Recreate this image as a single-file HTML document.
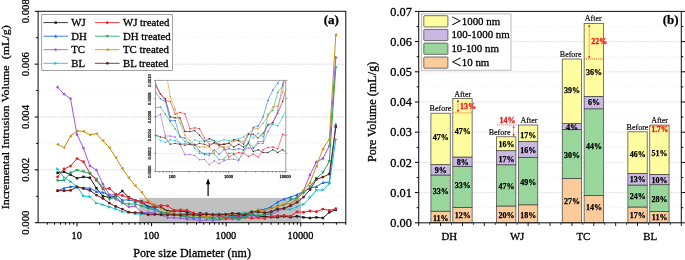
<!DOCTYPE html>
<html lang="en"><head><meta charset="utf-8"><title>Pore size distribution</title>
<style>html,body{margin:0;padding:0;background:#fff}body{width:685px;height:260px;overflow:hidden}svg{display:block;filter:blur(0.45px)}</style>
</head><body>
<svg width="685" height="260" viewBox="0 0 685 260" font-family='"Liberation Serif", "DejaVu Serif", serif'>
<rect width="685" height="260" fill="#fff"/>
<line x1="38.1" x2="345.8" y1="196.27" y2="196.27" stroke="#f1f1f1" stroke-width="0.7" stroke-dasharray="1.2,1.2"/>
<line x1="38.1" x2="345.8" y1="169.85" y2="169.85" stroke="#b9b9b9" stroke-width="0.7" stroke-dasharray="1.2,1.2"/>
<line x1="38.1" x2="345.8" y1="143.43" y2="143.43" stroke="#f1f1f1" stroke-width="0.7" stroke-dasharray="1.2,1.2"/>
<line x1="38.1" x2="345.8" y1="117.00" y2="117.00" stroke="#b9b9b9" stroke-width="0.7" stroke-dasharray="1.2,1.2"/>
<line x1="38.1" x2="345.8" y1="90.57" y2="90.57" stroke="#f1f1f1" stroke-width="0.7" stroke-dasharray="1.2,1.2"/>
<line x1="38.1" x2="345.8" y1="64.15" y2="64.15" stroke="#b9b9b9" stroke-width="0.7" stroke-dasharray="1.2,1.2"/>
<line x1="38.1" x2="345.8" y1="37.73" y2="37.73" stroke="#f1f1f1" stroke-width="0.7" stroke-dasharray="1.2,1.2"/>
<rect x="139.2" y="197.9" width="161.8" height="24.8" fill="#c0c0c0"/>
<clipPath id="ca"><rect x="38.1" y="11.3" width="307.7" height="214.39999999999998"/></clipPath>
<g clip-path="url(#ca)">
<polyline points="57.60,172.80 64.07,171.80 70.54,174.70 77.01,178.20 83.48,176.90 89.95,177.70 96.42,188.20 102.89,196.10 109.36,197.50 115.83,196.10 122.30,191.00 128.77,197.33 135.24,200.24 141.71,201.56 148.18,206.84 154.65,207.11 161.12,207.11 167.59,211.07 174.06,211.07 180.53,210.81 187.00,212.13 193.47,213.98 199.94,213.19 206.41,213.72 212.88,215.04 219.35,214.77 225.82,214.51 232.29,215.57 238.76,214.77 245.23,215.57 251.70,214.51 258.17,216.89 264.64,216.36 271.11,217.15 277.58,217.15 284.05,216.36 290.52,217.15 296.99,216.36 303.46,217.40 309.93,218.00 316.40,217.40 322.87,218.00 329.34,212.30 335.81,209.80" fill="none" stroke="#1a1a1a" stroke-width="1" stroke-linejoin="round"/>
<rect x="56.37" y="171.57" width="2.46" height="2.46" fill="#1a1a1a"/>
<rect x="62.84" y="170.57" width="2.46" height="2.46" fill="#1a1a1a"/>
<rect x="69.31" y="173.47" width="2.46" height="2.46" fill="#1a1a1a"/>
<rect x="75.78" y="176.97" width="2.46" height="2.46" fill="#1a1a1a"/>
<rect x="82.25" y="175.67" width="2.46" height="2.46" fill="#1a1a1a"/>
<rect x="88.72" y="176.47" width="2.46" height="2.46" fill="#1a1a1a"/>
<rect x="95.19" y="186.97" width="2.46" height="2.46" fill="#1a1a1a"/>
<rect x="101.66" y="194.87" width="2.46" height="2.46" fill="#1a1a1a"/>
<rect x="108.13" y="196.27" width="2.46" height="2.46" fill="#1a1a1a"/>
<rect x="114.60" y="194.87" width="2.46" height="2.46" fill="#1a1a1a"/>
<rect x="121.07" y="189.77" width="2.46" height="2.46" fill="#1a1a1a"/>
<rect x="127.54" y="196.10" width="2.46" height="2.46" fill="#1a1a1a"/>
<rect x="134.01" y="199.01" width="2.46" height="2.46" fill="#1a1a1a"/>
<rect x="140.48" y="200.33" width="2.46" height="2.46" fill="#1a1a1a"/>
<rect x="146.95" y="205.61" width="2.46" height="2.46" fill="#1a1a1a"/>
<rect x="153.42" y="205.88" width="2.46" height="2.46" fill="#1a1a1a"/>
<rect x="159.89" y="205.88" width="2.46" height="2.46" fill="#1a1a1a"/>
<rect x="166.36" y="209.84" width="2.46" height="2.46" fill="#1a1a1a"/>
<rect x="172.83" y="209.84" width="2.46" height="2.46" fill="#1a1a1a"/>
<rect x="179.30" y="209.58" width="2.46" height="2.46" fill="#1a1a1a"/>
<rect x="185.77" y="210.90" width="2.46" height="2.46" fill="#1a1a1a"/>
<rect x="192.24" y="212.75" width="2.46" height="2.46" fill="#1a1a1a"/>
<rect x="198.71" y="211.95" width="2.46" height="2.46" fill="#1a1a1a"/>
<rect x="205.18" y="212.48" width="2.46" height="2.46" fill="#1a1a1a"/>
<rect x="211.65" y="213.80" width="2.46" height="2.46" fill="#1a1a1a"/>
<rect x="218.12" y="213.54" width="2.46" height="2.46" fill="#1a1a1a"/>
<rect x="224.59" y="213.28" width="2.46" height="2.46" fill="#1a1a1a"/>
<rect x="231.06" y="214.33" width="2.46" height="2.46" fill="#1a1a1a"/>
<rect x="237.53" y="213.54" width="2.46" height="2.46" fill="#1a1a1a"/>
<rect x="244.00" y="214.33" width="2.46" height="2.46" fill="#1a1a1a"/>
<rect x="250.47" y="213.28" width="2.46" height="2.46" fill="#1a1a1a"/>
<rect x="256.94" y="215.65" width="2.46" height="2.46" fill="#1a1a1a"/>
<rect x="263.41" y="215.13" width="2.46" height="2.46" fill="#1a1a1a"/>
<rect x="269.88" y="215.92" width="2.46" height="2.46" fill="#1a1a1a"/>
<rect x="276.35" y="215.92" width="2.46" height="2.46" fill="#1a1a1a"/>
<rect x="282.82" y="215.13" width="2.46" height="2.46" fill="#1a1a1a"/>
<rect x="289.29" y="215.92" width="2.46" height="2.46" fill="#1a1a1a"/>
<rect x="295.76" y="215.13" width="2.46" height="2.46" fill="#1a1a1a"/>
<rect x="302.23" y="216.17" width="2.46" height="2.46" fill="#1a1a1a"/>
<rect x="308.70" y="216.77" width="2.46" height="2.46" fill="#1a1a1a"/>
<rect x="315.17" y="216.17" width="2.46" height="2.46" fill="#1a1a1a"/>
<rect x="321.64" y="216.77" width="2.46" height="2.46" fill="#1a1a1a"/>
<rect x="328.11" y="211.07" width="2.46" height="2.46" fill="#1a1a1a"/>
<rect x="334.58" y="208.57" width="2.46" height="2.46" fill="#1a1a1a"/>
<polyline points="57.60,190.70 64.07,188.20 70.54,186.60 77.01,187.00 83.48,187.90 89.95,188.20 96.42,191.70 102.89,192.30 109.36,195.00 115.83,194.80 122.30,200.20 128.77,199.71 135.24,201.56 141.71,202.35 148.18,207.90 154.65,207.90 161.12,212.66 167.59,212.92 174.06,214.77 180.53,214.77 187.00,216.75 193.47,217.68 199.94,217.94 206.41,216.36 212.88,217.68 219.35,216.36 225.82,216.09 232.29,216.36 238.76,216.09 245.23,216.36 251.70,214.51 258.17,209.88 264.64,209.49 271.11,206.84 277.58,202.09 284.05,199.05 290.52,197.07 296.99,194.69 303.46,191.40 309.93,188.20 316.40,186.60 322.87,182.60 329.34,182.20 335.81,124.50" fill="none" stroke="#1668e6" stroke-width="1" stroke-linejoin="round"/>
<polygon points="57.60,189.03 59.27,192.03 55.93,192.03" fill="#1668e6"/>
<polygon points="64.07,186.53 65.74,189.53 62.40,189.53" fill="#1668e6"/>
<polygon points="70.54,184.93 72.21,187.93 68.87,187.93" fill="#1668e6"/>
<polygon points="77.01,185.33 78.68,188.33 75.34,188.33" fill="#1668e6"/>
<polygon points="83.48,186.23 85.15,189.23 81.81,189.23" fill="#1668e6"/>
<polygon points="89.95,186.53 91.62,189.53 88.28,189.53" fill="#1668e6"/>
<polygon points="96.42,190.03 98.09,193.03 94.75,193.03" fill="#1668e6"/>
<polygon points="102.89,190.63 104.56,193.63 101.22,193.63" fill="#1668e6"/>
<polygon points="109.36,193.33 111.03,196.33 107.69,196.33" fill="#1668e6"/>
<polygon points="115.83,193.13 117.50,196.13 114.16,196.13" fill="#1668e6"/>
<polygon points="122.30,198.53 123.97,201.53 120.63,201.53" fill="#1668e6"/>
<polygon points="128.77,198.04 130.44,201.04 127.10,201.04" fill="#1668e6"/>
<polygon points="135.24,199.89 136.91,202.89 133.57,202.89" fill="#1668e6"/>
<polygon points="141.71,200.69 143.38,203.69 140.04,203.69" fill="#1668e6"/>
<polygon points="148.18,206.23 149.85,209.24 146.51,209.24" fill="#1668e6"/>
<polygon points="154.65,206.23 156.32,209.24 152.98,209.24" fill="#1668e6"/>
<polygon points="161.12,210.99 162.79,213.99 159.45,213.99" fill="#1668e6"/>
<polygon points="167.59,211.26 169.26,214.26 165.92,214.26" fill="#1668e6"/>
<polygon points="174.06,213.10 175.73,216.11 172.39,216.11" fill="#1668e6"/>
<polygon points="180.53,213.10 182.20,216.11 178.86,216.11" fill="#1668e6"/>
<polygon points="187.00,215.09 188.67,218.09 185.33,218.09" fill="#1668e6"/>
<polygon points="193.47,216.01 195.14,219.01 191.80,219.01" fill="#1668e6"/>
<polygon points="199.94,216.28 201.61,219.28 198.27,219.28" fill="#1668e6"/>
<polygon points="206.41,214.69 208.08,217.69 204.74,217.69" fill="#1668e6"/>
<polygon points="212.88,216.01 214.55,219.01 211.21,219.01" fill="#1668e6"/>
<polygon points="219.35,214.69 221.02,217.69 217.68,217.69" fill="#1668e6"/>
<polygon points="225.82,214.43 227.49,217.43 224.15,217.43" fill="#1668e6"/>
<polygon points="232.29,214.69 233.96,217.69 230.62,217.69" fill="#1668e6"/>
<polygon points="238.76,214.43 240.43,217.43 237.09,217.43" fill="#1668e6"/>
<polygon points="245.23,214.69 246.90,217.69 243.56,217.69" fill="#1668e6"/>
<polygon points="251.70,212.84 253.37,215.84 250.03,215.84" fill="#1668e6"/>
<polygon points="258.17,208.22 259.84,211.22 256.50,211.22" fill="#1668e6"/>
<polygon points="264.64,207.82 266.31,210.82 262.97,210.82" fill="#1668e6"/>
<polygon points="271.11,205.18 272.78,208.18 269.44,208.18" fill="#1668e6"/>
<polygon points="277.58,200.42 279.25,203.42 275.91,203.42" fill="#1668e6"/>
<polygon points="284.05,197.38 285.72,200.38 282.38,200.38" fill="#1668e6"/>
<polygon points="290.52,195.40 292.19,198.40 288.85,198.40" fill="#1668e6"/>
<polygon points="296.99,193.02 298.66,196.02 295.32,196.02" fill="#1668e6"/>
<polygon points="303.46,189.73 305.13,192.73 301.79,192.73" fill="#1668e6"/>
<polygon points="309.93,186.53 311.60,189.53 308.26,189.53" fill="#1668e6"/>
<polygon points="316.40,184.93 318.07,187.93 314.73,187.93" fill="#1668e6"/>
<polygon points="322.87,180.93 324.54,183.93 321.20,183.93" fill="#1668e6"/>
<polygon points="329.34,180.53 331.01,183.53 327.67,183.53" fill="#1668e6"/>
<polygon points="335.81,122.83 337.48,125.83 334.14,125.83" fill="#1668e6"/>
<polyline points="57.60,87.20 64.07,94.20 70.54,98.70 77.01,134.60 83.48,148.10 89.95,165.90 96.42,170.05 102.89,184.00 109.36,194.80 115.83,199.30 122.30,203.00 128.77,206.84 135.24,206.05 141.71,212.39 148.18,212.39 154.65,212.66 161.12,214.77 167.59,217.84 174.06,217.76 180.53,218.02 187.00,219.26 193.47,219.16 199.94,220.69 206.41,219.58 212.88,220.43 219.35,219.53 225.82,219.11 232.29,219.11 238.76,219.53 245.23,216.36 251.70,215.83 258.17,216.09 264.64,214.51 271.11,214.51 277.58,211.07 284.05,208.69 290.52,205.00 296.99,197.33 303.46,191.00 309.93,175.00 316.40,161.90 322.87,158.50 329.34,145.80 335.81,57.50" fill="none" stroke="#a354e8" stroke-width="1" stroke-linejoin="round"/>
<polygon points="57.60,85.53 59.27,87.20 57.60,88.87 55.93,87.20" fill="#a354e8"/>
<polygon points="64.07,92.53 65.74,94.20 64.07,95.87 62.40,94.20" fill="#a354e8"/>
<polygon points="70.54,97.03 72.21,98.70 70.54,100.37 68.87,98.70" fill="#a354e8"/>
<polygon points="77.01,132.93 78.68,134.60 77.01,136.27 75.34,134.60" fill="#a354e8"/>
<polygon points="83.48,146.43 85.15,148.10 83.48,149.77 81.81,148.10" fill="#a354e8"/>
<polygon points="89.95,164.23 91.62,165.90 89.95,167.57 88.28,165.90" fill="#a354e8"/>
<polygon points="96.42,168.38 98.09,170.05 96.42,171.72 94.75,170.05" fill="#a354e8"/>
<polygon points="102.89,182.33 104.56,184.00 102.89,185.67 101.22,184.00" fill="#a354e8"/>
<polygon points="109.36,193.13 111.03,194.80 109.36,196.47 107.69,194.80" fill="#a354e8"/>
<polygon points="115.83,197.63 117.50,199.30 115.83,200.97 114.16,199.30" fill="#a354e8"/>
<polygon points="122.30,201.33 123.97,203.00 122.30,204.67 120.63,203.00" fill="#a354e8"/>
<polygon points="128.77,205.18 130.44,206.84 128.77,208.51 127.10,206.84" fill="#a354e8"/>
<polygon points="135.24,204.38 136.91,206.05 135.24,207.72 133.57,206.05" fill="#a354e8"/>
<polygon points="141.71,210.73 143.38,212.39 141.71,214.06 140.04,212.39" fill="#a354e8"/>
<polygon points="148.18,210.73 149.85,212.39 148.18,214.06 146.51,212.39" fill="#a354e8"/>
<polygon points="154.65,210.99 156.32,212.66 154.65,214.33 152.98,212.66" fill="#a354e8"/>
<polygon points="161.12,213.10 162.79,214.77 161.12,216.44 159.45,214.77" fill="#a354e8"/>
<polygon points="167.59,216.17 169.26,217.84 167.59,219.51 165.92,217.84" fill="#a354e8"/>
<polygon points="174.06,216.09 175.73,217.76 174.06,219.43 172.39,217.76" fill="#a354e8"/>
<polygon points="180.53,216.36 182.20,218.02 180.53,219.69 178.86,218.02" fill="#a354e8"/>
<polygon points="187.00,217.60 188.67,219.26 187.00,220.93 185.33,219.26" fill="#a354e8"/>
<polygon points="193.47,217.49 195.14,219.16 193.47,220.83 191.80,219.16" fill="#a354e8"/>
<polygon points="199.94,219.02 201.61,220.69 199.94,222.36 198.27,220.69" fill="#a354e8"/>
<polygon points="206.41,217.91 208.08,219.58 206.41,221.25 204.74,219.58" fill="#a354e8"/>
<polygon points="212.88,218.76 214.55,220.43 212.88,222.09 211.21,220.43" fill="#a354e8"/>
<polygon points="219.35,217.86 221.02,219.53 219.35,221.20 217.68,219.53" fill="#a354e8"/>
<polygon points="225.82,217.44 227.49,219.11 225.82,220.77 224.15,219.11" fill="#a354e8"/>
<polygon points="232.29,217.44 233.96,219.11 232.29,220.77 230.62,219.11" fill="#a354e8"/>
<polygon points="238.76,217.86 240.43,219.53 238.76,221.20 237.09,219.53" fill="#a354e8"/>
<polygon points="245.23,214.69 246.90,216.36 245.23,218.03 243.56,216.36" fill="#a354e8"/>
<polygon points="251.70,214.16 253.37,215.83 251.70,217.50 250.03,215.83" fill="#a354e8"/>
<polygon points="258.17,214.43 259.84,216.09 258.17,217.76 256.50,216.09" fill="#a354e8"/>
<polygon points="264.64,212.84 266.31,214.51 264.64,216.18 262.97,214.51" fill="#a354e8"/>
<polygon points="271.11,212.84 272.78,214.51 271.11,216.18 269.44,214.51" fill="#a354e8"/>
<polygon points="277.58,209.41 279.25,211.07 277.58,212.74 275.91,211.07" fill="#a354e8"/>
<polygon points="284.05,207.03 285.72,208.69 284.05,210.36 282.38,208.69" fill="#a354e8"/>
<polygon points="290.52,203.33 292.19,205.00 290.52,206.66 288.85,205.00" fill="#a354e8"/>
<polygon points="296.99,195.66 298.66,197.33 296.99,199.00 295.32,197.33" fill="#a354e8"/>
<polygon points="303.46,189.33 305.13,191.00 303.46,192.67 301.79,191.00" fill="#a354e8"/>
<polygon points="309.93,173.33 311.60,175.00 309.93,176.67 308.26,175.00" fill="#a354e8"/>
<polygon points="316.40,160.23 318.07,161.90 316.40,163.57 314.73,161.90" fill="#a354e8"/>
<polygon points="322.87,156.83 324.54,158.50 322.87,160.17 321.20,158.50" fill="#a354e8"/>
<polygon points="329.34,144.13 331.01,145.80 329.34,147.47 327.67,145.80" fill="#a354e8"/>
<polygon points="335.81,55.83 337.48,57.50 335.81,59.17 334.14,57.50" fill="#a354e8"/>
<polyline points="57.60,169.00 64.07,177.30 70.54,181.60 77.01,186.60 83.48,195.90 89.95,196.70 96.42,203.10 102.89,204.70 109.36,207.00 115.83,209.00 122.30,211.70 128.77,212.39 135.24,213.72 141.71,214.24 148.18,213.45 154.65,213.72 161.12,214.51 167.59,214.51 174.06,214.77 180.53,213.45 187.00,213.98 193.47,213.72 199.94,213.98 206.41,213.72 212.88,213.98 219.35,213.45 225.82,213.72 232.29,213.45 238.76,213.19 245.23,212.66 251.70,211.60 258.17,212.92 264.64,211.60 271.11,212.66 277.58,208.96 284.05,208.96 290.52,209.49 296.99,206.84 303.46,204.30 309.93,197.70 316.40,190.00 322.87,190.00 329.34,183.50 335.81,139.40" fill="none" stroke="#12c3cc" stroke-width="1" stroke-linejoin="round"/>
<polygon points="59.27,169.00 56.27,167.33 56.27,170.67" fill="#12c3cc"/>
<polygon points="65.74,177.30 62.74,175.63 62.74,178.97" fill="#12c3cc"/>
<polygon points="72.21,181.60 69.21,179.93 69.21,183.27" fill="#12c3cc"/>
<polygon points="78.68,186.60 75.68,184.93 75.68,188.27" fill="#12c3cc"/>
<polygon points="85.15,195.90 82.15,194.23 82.15,197.57" fill="#12c3cc"/>
<polygon points="91.62,196.70 88.62,195.03 88.62,198.37" fill="#12c3cc"/>
<polygon points="98.09,203.10 95.09,201.43 95.09,204.77" fill="#12c3cc"/>
<polygon points="104.56,204.70 101.56,203.03 101.56,206.37" fill="#12c3cc"/>
<polygon points="111.03,207.00 108.03,205.33 108.03,208.67" fill="#12c3cc"/>
<polygon points="117.50,209.00 114.50,207.33 114.50,210.67" fill="#12c3cc"/>
<polygon points="123.97,211.70 120.97,210.03 120.97,213.37" fill="#12c3cc"/>
<polygon points="130.44,212.39 127.44,210.73 127.44,214.06" fill="#12c3cc"/>
<polygon points="136.91,213.72 133.91,212.05 133.91,215.38" fill="#12c3cc"/>
<polygon points="143.38,214.24 140.38,212.58 140.38,215.91" fill="#12c3cc"/>
<polygon points="149.85,213.45 146.85,211.78 146.85,215.12" fill="#12c3cc"/>
<polygon points="156.32,213.72 153.32,212.05 153.32,215.38" fill="#12c3cc"/>
<polygon points="162.79,214.51 159.79,212.84 159.79,216.18" fill="#12c3cc"/>
<polygon points="169.26,214.51 166.26,212.84 166.26,216.18" fill="#12c3cc"/>
<polygon points="175.73,214.77 172.73,213.10 172.73,216.44" fill="#12c3cc"/>
<polygon points="182.20,213.45 179.20,211.78 179.20,215.12" fill="#12c3cc"/>
<polygon points="188.67,213.98 185.67,212.31 185.67,215.65" fill="#12c3cc"/>
<polygon points="195.14,213.72 192.14,212.05 192.14,215.38" fill="#12c3cc"/>
<polygon points="201.61,213.98 198.61,212.31 198.61,215.65" fill="#12c3cc"/>
<polygon points="208.08,213.72 205.08,212.05 205.08,215.38" fill="#12c3cc"/>
<polygon points="214.55,213.98 211.55,212.31 211.55,215.65" fill="#12c3cc"/>
<polygon points="221.02,213.45 218.02,211.78 218.02,215.12" fill="#12c3cc"/>
<polygon points="227.49,213.72 224.49,212.05 224.49,215.38" fill="#12c3cc"/>
<polygon points="233.96,213.45 230.96,211.78 230.96,215.12" fill="#12c3cc"/>
<polygon points="240.43,213.19 237.43,211.52 237.43,214.85" fill="#12c3cc"/>
<polygon points="246.90,212.66 243.90,210.99 243.90,214.33" fill="#12c3cc"/>
<polygon points="253.37,211.60 250.37,209.93 250.37,213.27" fill="#12c3cc"/>
<polygon points="259.84,212.92 256.84,211.26 256.84,214.59" fill="#12c3cc"/>
<polygon points="266.31,211.60 263.31,209.93 263.31,213.27" fill="#12c3cc"/>
<polygon points="272.78,212.66 269.78,210.99 269.78,214.33" fill="#12c3cc"/>
<polygon points="279.25,208.96 276.25,207.29 276.25,210.63" fill="#12c3cc"/>
<polygon points="285.72,208.96 282.72,207.29 282.72,210.63" fill="#12c3cc"/>
<polygon points="292.19,209.49 289.19,207.82 289.19,211.15" fill="#12c3cc"/>
<polygon points="298.66,206.84 295.66,205.18 295.66,208.51" fill="#12c3cc"/>
<polygon points="305.13,204.30 302.13,202.63 302.13,205.97" fill="#12c3cc"/>
<polygon points="311.60,197.70 308.60,196.03 308.60,199.37" fill="#12c3cc"/>
<polygon points="318.07,190.00 315.07,188.33 315.07,191.67" fill="#12c3cc"/>
<polygon points="324.54,190.00 321.54,188.33 321.54,191.67" fill="#12c3cc"/>
<polygon points="331.01,183.50 328.01,181.83 328.01,185.17" fill="#12c3cc"/>
<polygon points="337.48,139.40 334.48,137.73 334.48,141.07" fill="#12c3cc"/>
<polyline points="57.60,176.90 64.07,169.00 70.54,166.10 77.01,158.60 83.48,161.70 89.95,173.50 96.42,180.20 102.89,189.10 109.36,188.50 115.83,194.20 122.30,195.50 128.77,197.86 135.24,200.24 141.71,202.09 148.18,202.35 154.65,206.05 161.12,205.52 167.59,205.92 174.06,210.28 180.53,210.02 187.00,210.28 193.47,212.92 199.94,214.77 206.41,214.51 212.88,215.04 219.35,215.83 225.82,218.47 232.29,217.68 238.76,217.15 245.23,217.41 251.70,218.29 258.17,217.68 264.64,218.47 271.11,216.36 277.58,215.70 284.05,215.57 290.52,216.09 296.99,211.87 303.46,212.30 309.93,211.00 316.40,211.70 322.87,209.10 329.34,210.40 335.81,208.80" fill="none" stroke="#f0202a" stroke-width="1" stroke-linejoin="round"/>
<circle cx="57.60" cy="176.90" r="1.45" fill="#f0202a"/>
<circle cx="64.07" cy="169.00" r="1.45" fill="#f0202a"/>
<circle cx="70.54" cy="166.10" r="1.45" fill="#f0202a"/>
<circle cx="77.01" cy="158.60" r="1.45" fill="#f0202a"/>
<circle cx="83.48" cy="161.70" r="1.45" fill="#f0202a"/>
<circle cx="89.95" cy="173.50" r="1.45" fill="#f0202a"/>
<circle cx="96.42" cy="180.20" r="1.45" fill="#f0202a"/>
<circle cx="102.89" cy="189.10" r="1.45" fill="#f0202a"/>
<circle cx="109.36" cy="188.50" r="1.45" fill="#f0202a"/>
<circle cx="115.83" cy="194.20" r="1.45" fill="#f0202a"/>
<circle cx="122.30" cy="195.50" r="1.45" fill="#f0202a"/>
<circle cx="128.77" cy="197.86" r="1.45" fill="#f0202a"/>
<circle cx="135.24" cy="200.24" r="1.45" fill="#f0202a"/>
<circle cx="141.71" cy="202.09" r="1.45" fill="#f0202a"/>
<circle cx="148.18" cy="202.35" r="1.45" fill="#f0202a"/>
<circle cx="154.65" cy="206.05" r="1.45" fill="#f0202a"/>
<circle cx="161.12" cy="205.52" r="1.45" fill="#f0202a"/>
<circle cx="167.59" cy="205.92" r="1.45" fill="#f0202a"/>
<circle cx="174.06" cy="210.28" r="1.45" fill="#f0202a"/>
<circle cx="180.53" cy="210.02" r="1.45" fill="#f0202a"/>
<circle cx="187.00" cy="210.28" r="1.45" fill="#f0202a"/>
<circle cx="193.47" cy="212.92" r="1.45" fill="#f0202a"/>
<circle cx="199.94" cy="214.77" r="1.45" fill="#f0202a"/>
<circle cx="206.41" cy="214.51" r="1.45" fill="#f0202a"/>
<circle cx="212.88" cy="215.04" r="1.45" fill="#f0202a"/>
<circle cx="219.35" cy="215.83" r="1.45" fill="#f0202a"/>
<circle cx="225.82" cy="218.47" r="1.45" fill="#f0202a"/>
<circle cx="232.29" cy="217.68" r="1.45" fill="#f0202a"/>
<circle cx="238.76" cy="217.15" r="1.45" fill="#f0202a"/>
<circle cx="245.23" cy="217.41" r="1.45" fill="#f0202a"/>
<circle cx="251.70" cy="218.29" r="1.45" fill="#f0202a"/>
<circle cx="258.17" cy="217.68" r="1.45" fill="#f0202a"/>
<circle cx="264.64" cy="218.47" r="1.45" fill="#f0202a"/>
<circle cx="271.11" cy="216.36" r="1.45" fill="#f0202a"/>
<circle cx="277.58" cy="215.70" r="1.45" fill="#f0202a"/>
<circle cx="284.05" cy="215.57" r="1.45" fill="#f0202a"/>
<circle cx="290.52" cy="216.09" r="1.45" fill="#f0202a"/>
<circle cx="296.99" cy="211.87" r="1.45" fill="#f0202a"/>
<circle cx="303.46" cy="212.30" r="1.45" fill="#f0202a"/>
<circle cx="309.93" cy="211.00" r="1.45" fill="#f0202a"/>
<circle cx="316.40" cy="211.70" r="1.45" fill="#f0202a"/>
<circle cx="322.87" cy="209.10" r="1.45" fill="#f0202a"/>
<circle cx="329.34" cy="210.40" r="1.45" fill="#f0202a"/>
<circle cx="335.81" cy="208.80" r="1.45" fill="#f0202a"/>
<polyline points="57.60,180.50 64.07,180.50 70.54,172.80 77.01,170.30 83.48,171.60 89.95,173.50 96.42,179.20 102.89,187.90 109.36,199.30 115.83,197.40 122.30,202.80 128.77,204.20 135.24,203.94 141.71,206.05 148.18,208.17 154.65,210.28 161.12,212.39 167.59,213.98 174.06,214.51 180.53,215.83 187.00,217.41 193.47,217.41 199.94,217.41 206.41,217.55 212.88,219.26 219.35,219.08 225.82,217.41 232.29,217.41 238.76,219.26 245.23,217.41 251.70,213.98 258.17,215.70 264.64,213.98 271.11,213.98 277.58,206.05 284.05,205.00 290.52,199.71 296.99,197.86 303.46,193.00 309.93,186.60 316.40,178.40 322.87,172.70 329.34,161.30 335.81,67.70" fill="none" stroke="#1fa55e" stroke-width="1" stroke-linejoin="round"/>
<polygon points="57.60,182.17 59.27,179.17 55.93,179.17" fill="#1fa55e"/>
<polygon points="64.07,182.17 65.74,179.17 62.40,179.17" fill="#1fa55e"/>
<polygon points="70.54,174.47 72.21,171.47 68.87,171.47" fill="#1fa55e"/>
<polygon points="77.01,171.97 78.68,168.97 75.34,168.97" fill="#1fa55e"/>
<polygon points="83.48,173.27 85.15,170.27 81.81,170.27" fill="#1fa55e"/>
<polygon points="89.95,175.17 91.62,172.17 88.28,172.17" fill="#1fa55e"/>
<polygon points="96.42,180.87 98.09,177.87 94.75,177.87" fill="#1fa55e"/>
<polygon points="102.89,189.57 104.56,186.57 101.22,186.57" fill="#1fa55e"/>
<polygon points="109.36,200.97 111.03,197.97 107.69,197.97" fill="#1fa55e"/>
<polygon points="115.83,199.07 117.50,196.07 114.16,196.07" fill="#1fa55e"/>
<polygon points="122.30,204.47 123.97,201.47 120.63,201.47" fill="#1fa55e"/>
<polygon points="128.77,205.87 130.44,202.87 127.10,202.87" fill="#1fa55e"/>
<polygon points="135.24,205.61 136.91,202.60 133.57,202.60" fill="#1fa55e"/>
<polygon points="141.71,207.72 143.38,204.72 140.04,204.72" fill="#1fa55e"/>
<polygon points="148.18,209.83 149.85,206.83 146.51,206.83" fill="#1fa55e"/>
<polygon points="154.65,211.95 156.32,208.95 152.98,208.95" fill="#1fa55e"/>
<polygon points="161.12,214.06 162.79,211.06 159.45,211.06" fill="#1fa55e"/>
<polygon points="167.59,215.65 169.26,212.65 165.92,212.65" fill="#1fa55e"/>
<polygon points="174.06,216.18 175.73,213.17 172.39,213.17" fill="#1fa55e"/>
<polygon points="180.53,217.50 182.20,214.50 178.86,214.50" fill="#1fa55e"/>
<polygon points="187.00,219.08 188.67,216.08 185.33,216.08" fill="#1fa55e"/>
<polygon points="193.47,219.08 195.14,216.08 191.80,216.08" fill="#1fa55e"/>
<polygon points="199.94,219.08 201.61,216.08 198.27,216.08" fill="#1fa55e"/>
<polygon points="206.41,219.21 208.08,216.21 204.74,216.21" fill="#1fa55e"/>
<polygon points="212.88,220.93 214.55,217.93 211.21,217.93" fill="#1fa55e"/>
<polygon points="219.35,220.75 221.02,217.75 217.68,217.75" fill="#1fa55e"/>
<polygon points="225.82,219.08 227.49,216.08 224.15,216.08" fill="#1fa55e"/>
<polygon points="232.29,219.08 233.96,216.08 230.62,216.08" fill="#1fa55e"/>
<polygon points="238.76,220.93 240.43,217.93 237.09,217.93" fill="#1fa55e"/>
<polygon points="245.23,219.08 246.90,216.08 243.56,216.08" fill="#1fa55e"/>
<polygon points="251.70,215.65 253.37,212.65 250.03,212.65" fill="#1fa55e"/>
<polygon points="258.17,217.36 259.84,214.36 256.50,214.36" fill="#1fa55e"/>
<polygon points="264.64,215.65 266.31,212.65 262.97,212.65" fill="#1fa55e"/>
<polygon points="271.11,215.65 272.78,212.65 269.44,212.65" fill="#1fa55e"/>
<polygon points="277.58,207.72 279.25,204.72 275.91,204.72" fill="#1fa55e"/>
<polygon points="284.05,206.66 285.72,203.66 282.38,203.66" fill="#1fa55e"/>
<polygon points="290.52,201.38 292.19,198.38 288.85,198.38" fill="#1fa55e"/>
<polygon points="296.99,199.53 298.66,196.53 295.32,196.53" fill="#1fa55e"/>
<polygon points="303.46,194.67 305.13,191.67 301.79,191.67" fill="#1fa55e"/>
<polygon points="309.93,188.27 311.60,185.27 308.26,185.27" fill="#1fa55e"/>
<polygon points="316.40,180.07 318.07,177.07 314.73,177.07" fill="#1fa55e"/>
<polygon points="322.87,174.37 324.54,171.37 321.20,171.37" fill="#1fa55e"/>
<polygon points="329.34,162.97 331.01,159.97 327.67,159.97" fill="#1fa55e"/>
<polygon points="335.81,69.37 337.48,66.37 334.14,66.37" fill="#1fa55e"/>
<polyline points="57.60,144.30 64.07,147.60 70.54,136.00 77.01,131.00 83.48,131.30 89.95,134.80 96.42,133.70 102.89,140.70 109.36,147.60 115.83,157.70 122.30,168.40 128.77,177.78 135.24,185.70 141.71,192.31 148.18,201.03 154.65,204.60 161.12,208.69 167.59,212.13 174.06,213.72 180.53,215.04 187.00,215.57 193.47,215.57 199.94,215.57 206.41,217.15 212.88,215.57 219.35,215.57 225.82,215.57 232.29,213.98 238.76,213.72 245.23,213.98 251.70,211.87 258.17,210.28 264.64,210.28 271.11,208.69 277.58,206.58 284.05,203.94 290.52,203.67 296.99,199.71 303.46,190.50 309.93,182.80 316.40,166.30 322.87,148.90 329.34,139.20 335.81,34.80" fill="none" stroke="#c8900f" stroke-width="1" stroke-linejoin="round"/>
<polygon points="55.93,144.30 58.93,142.63 58.93,145.97" fill="#c8900f"/>
<polygon points="62.40,147.60 65.40,145.93 65.40,149.27" fill="#c8900f"/>
<polygon points="68.87,136.00 71.87,134.33 71.87,137.67" fill="#c8900f"/>
<polygon points="75.34,131.00 78.34,129.33 78.34,132.67" fill="#c8900f"/>
<polygon points="81.81,131.30 84.81,129.63 84.81,132.97" fill="#c8900f"/>
<polygon points="88.28,134.80 91.28,133.13 91.28,136.47" fill="#c8900f"/>
<polygon points="94.75,133.70 97.75,132.03 97.75,135.37" fill="#c8900f"/>
<polygon points="101.22,140.70 104.22,139.03 104.22,142.37" fill="#c8900f"/>
<polygon points="107.69,147.60 110.69,145.93 110.69,149.27" fill="#c8900f"/>
<polygon points="114.16,157.70 117.16,156.03 117.16,159.37" fill="#c8900f"/>
<polygon points="120.63,168.40 123.63,166.73 123.63,170.07" fill="#c8900f"/>
<polygon points="127.10,177.78 130.10,176.11 130.10,179.44" fill="#c8900f"/>
<polygon points="133.57,185.70 136.57,184.04 136.57,187.37" fill="#c8900f"/>
<polygon points="140.04,192.31 143.04,190.64 143.04,193.98" fill="#c8900f"/>
<polygon points="146.51,201.03 149.51,199.36 149.51,202.70" fill="#c8900f"/>
<polygon points="152.98,204.60 155.98,202.93 155.98,206.27" fill="#c8900f"/>
<polygon points="159.45,208.69 162.45,207.03 162.45,210.36" fill="#c8900f"/>
<polygon points="165.92,212.13 168.92,210.46 168.92,213.80" fill="#c8900f"/>
<polygon points="172.39,213.72 175.39,212.05 175.39,215.38" fill="#c8900f"/>
<polygon points="178.86,215.04 181.86,213.37 181.86,216.70" fill="#c8900f"/>
<polygon points="185.33,215.57 188.33,213.90 188.33,217.23" fill="#c8900f"/>
<polygon points="191.80,215.57 194.80,213.90 194.80,217.23" fill="#c8900f"/>
<polygon points="198.27,215.57 201.27,213.90 201.27,217.23" fill="#c8900f"/>
<polygon points="204.74,217.15 207.74,215.48 207.74,218.82" fill="#c8900f"/>
<polygon points="211.21,215.57 214.21,213.90 214.21,217.23" fill="#c8900f"/>
<polygon points="217.68,215.57 220.68,213.90 220.68,217.23" fill="#c8900f"/>
<polygon points="224.15,215.57 227.15,213.90 227.15,217.23" fill="#c8900f"/>
<polygon points="230.62,213.98 233.62,212.31 233.62,215.65" fill="#c8900f"/>
<polygon points="237.09,213.72 240.09,212.05 240.09,215.38" fill="#c8900f"/>
<polygon points="243.56,213.98 246.56,212.31 246.56,215.65" fill="#c8900f"/>
<polygon points="250.03,211.87 253.03,210.20 253.03,213.53" fill="#c8900f"/>
<polygon points="256.50,210.28 259.50,208.61 259.50,211.95" fill="#c8900f"/>
<polygon points="262.97,210.28 265.97,208.61 265.97,211.95" fill="#c8900f"/>
<polygon points="269.44,208.69 272.44,207.03 272.44,210.36" fill="#c8900f"/>
<polygon points="275.91,206.58 278.91,204.91 278.91,208.25" fill="#c8900f"/>
<polygon points="282.38,203.94 285.38,202.27 285.38,205.61" fill="#c8900f"/>
<polygon points="288.85,203.67 291.85,202.01 291.85,205.34" fill="#c8900f"/>
<polygon points="295.32,199.71 298.32,198.04 298.32,201.38" fill="#c8900f"/>
<polygon points="301.79,190.50 304.79,188.83 304.79,192.17" fill="#c8900f"/>
<polygon points="308.26,182.80 311.26,181.13 311.26,184.47" fill="#c8900f"/>
<polygon points="314.73,166.30 317.73,164.63 317.73,167.97" fill="#c8900f"/>
<polygon points="321.20,148.90 324.20,147.23 324.20,150.57" fill="#c8900f"/>
<polygon points="327.67,139.20 330.67,137.53 330.67,140.87" fill="#c8900f"/>
<polygon points="334.14,34.80 337.14,33.13 337.14,36.47" fill="#c8900f"/>
<polyline points="57.60,190.70 64.07,190.80 70.54,190.40 77.01,187.00 83.48,188.50 89.95,190.40 96.42,195.10 102.89,198.40 109.36,203.10 115.83,206.50 122.30,209.10 128.77,212.13 135.24,212.66 141.71,212.92 148.18,214.77 154.65,214.51 161.12,214.77 167.59,215.04 174.06,214.77 180.53,215.04 187.00,214.51 193.47,214.77 199.94,215.30 206.41,214.24 212.88,214.77 219.35,214.77 225.82,214.51 232.29,213.45 238.76,213.72 245.23,214.77 251.70,211.87 258.17,211.87 264.64,212.92 271.11,211.60 277.58,209.22 284.05,208.43 290.52,205.79 296.99,202.35 303.46,197.10 309.93,189.80 316.40,179.30 322.87,177.10 329.34,174.00 335.81,127.00" fill="none" stroke="#6e1c1c" stroke-width="1" stroke-linejoin="round"/>
<circle cx="57.60" cy="190.70" r="1.45" fill="#6e1c1c"/>
<circle cx="64.07" cy="190.80" r="1.45" fill="#6e1c1c"/>
<circle cx="70.54" cy="190.40" r="1.45" fill="#6e1c1c"/>
<circle cx="77.01" cy="187.00" r="1.45" fill="#6e1c1c"/>
<circle cx="83.48" cy="188.50" r="1.45" fill="#6e1c1c"/>
<circle cx="89.95" cy="190.40" r="1.45" fill="#6e1c1c"/>
<circle cx="96.42" cy="195.10" r="1.45" fill="#6e1c1c"/>
<circle cx="102.89" cy="198.40" r="1.45" fill="#6e1c1c"/>
<circle cx="109.36" cy="203.10" r="1.45" fill="#6e1c1c"/>
<circle cx="115.83" cy="206.50" r="1.45" fill="#6e1c1c"/>
<circle cx="122.30" cy="209.10" r="1.45" fill="#6e1c1c"/>
<circle cx="128.77" cy="212.13" r="1.45" fill="#6e1c1c"/>
<circle cx="135.24" cy="212.66" r="1.45" fill="#6e1c1c"/>
<circle cx="141.71" cy="212.92" r="1.45" fill="#6e1c1c"/>
<circle cx="148.18" cy="214.77" r="1.45" fill="#6e1c1c"/>
<circle cx="154.65" cy="214.51" r="1.45" fill="#6e1c1c"/>
<circle cx="161.12" cy="214.77" r="1.45" fill="#6e1c1c"/>
<circle cx="167.59" cy="215.04" r="1.45" fill="#6e1c1c"/>
<circle cx="174.06" cy="214.77" r="1.45" fill="#6e1c1c"/>
<circle cx="180.53" cy="215.04" r="1.45" fill="#6e1c1c"/>
<circle cx="187.00" cy="214.51" r="1.45" fill="#6e1c1c"/>
<circle cx="193.47" cy="214.77" r="1.45" fill="#6e1c1c"/>
<circle cx="199.94" cy="215.30" r="1.45" fill="#6e1c1c"/>
<circle cx="206.41" cy="214.24" r="1.45" fill="#6e1c1c"/>
<circle cx="212.88" cy="214.77" r="1.45" fill="#6e1c1c"/>
<circle cx="219.35" cy="214.77" r="1.45" fill="#6e1c1c"/>
<circle cx="225.82" cy="214.51" r="1.45" fill="#6e1c1c"/>
<circle cx="232.29" cy="213.45" r="1.45" fill="#6e1c1c"/>
<circle cx="238.76" cy="213.72" r="1.45" fill="#6e1c1c"/>
<circle cx="245.23" cy="214.77" r="1.45" fill="#6e1c1c"/>
<circle cx="251.70" cy="211.87" r="1.45" fill="#6e1c1c"/>
<circle cx="258.17" cy="211.87" r="1.45" fill="#6e1c1c"/>
<circle cx="264.64" cy="212.92" r="1.45" fill="#6e1c1c"/>
<circle cx="271.11" cy="211.60" r="1.45" fill="#6e1c1c"/>
<circle cx="277.58" cy="209.22" r="1.45" fill="#6e1c1c"/>
<circle cx="284.05" cy="208.43" r="1.45" fill="#6e1c1c"/>
<circle cx="290.52" cy="205.79" r="1.45" fill="#6e1c1c"/>
<circle cx="296.99" cy="202.35" r="1.45" fill="#6e1c1c"/>
<circle cx="303.46" cy="197.10" r="1.45" fill="#6e1c1c"/>
<circle cx="309.93" cy="189.80" r="1.45" fill="#6e1c1c"/>
<circle cx="316.40" cy="179.30" r="1.45" fill="#6e1c1c"/>
<circle cx="322.87" cy="177.10" r="1.45" fill="#6e1c1c"/>
<circle cx="329.34" cy="174.00" r="1.45" fill="#6e1c1c"/>
<circle cx="335.81" cy="127.00" r="1.45" fill="#6e1c1c"/>
</g>
<rect x="155.5" y="80.3" width="130.3" height="91.3" fill="#fff"/>
<line x1="155.5" x2="285.8" y1="153.38" y2="153.38" stroke="#cfcfcf" stroke-width="0.6" stroke-dasharray="1,1"/>
<line x1="155.5" x2="285.8" y1="135.16" y2="135.16" stroke="#cfcfcf" stroke-width="0.6" stroke-dasharray="1,1"/>
<line x1="155.5" x2="285.8" y1="116.94" y2="116.94" stroke="#a8a8a8" stroke-width="0.6" stroke-dasharray="1,1"/>
<line x1="155.5" x2="285.8" y1="98.72" y2="98.72" stroke="#cfcfcf" stroke-width="0.6" stroke-dasharray="1,1"/>
<line x1="155.5" x2="285.8" y1="162.49" y2="162.49" stroke="#ededed" stroke-width="0.5" stroke-dasharray="1,1"/>
<line x1="155.5" x2="285.8" y1="144.27" y2="144.27" stroke="#ededed" stroke-width="0.5" stroke-dasharray="1,1"/>
<line x1="155.5" x2="285.8" y1="126.05" y2="126.05" stroke="#ededed" stroke-width="0.5" stroke-dasharray="1,1"/>
<line x1="155.5" x2="285.8" y1="107.83" y2="107.83" stroke="#ededed" stroke-width="0.5" stroke-dasharray="1,1"/>
<line x1="155.5" x2="285.8" y1="89.61" y2="89.61" stroke="#ededed" stroke-width="0.5" stroke-dasharray="1,1"/>
<clipPath id="ci"><rect x="155.5" y="80.3" width="130.3" height="91.3"/></clipPath>
<g clip-path="url(#ci)">
<polyline points="150.72,62.31 155.60,84.14 160.48,94.16 165.37,98.72 170.25,116.94 175.14,117.85 180.02,117.85 184.91,131.52 189.79,131.52 194.68,130.60 199.56,135.16 204.45,141.54 209.33,138.80 214.22,140.63 219.10,145.18 223.99,144.27 228.88,143.36 233.76,147.00 238.64,144.27 243.53,147.00 248.41,143.36 253.30,151.56 258.19,149.74 263.07,152.47 267.95,152.47 272.84,149.74 277.73,152.47 282.61,149.74 287.50,153.33" fill="none" stroke="#1a1a1a" stroke-width="0.55" stroke-linejoin="round"/>
<rect x="155.00" y="83.54" width="1.2" height="1.2" fill="#1a1a1a"/>
<rect x="159.88" y="93.56" width="1.2" height="1.2" fill="#1a1a1a"/>
<rect x="164.77" y="98.12" width="1.2" height="1.2" fill="#1a1a1a"/>
<rect x="169.66" y="116.34" width="1.2" height="1.2" fill="#1a1a1a"/>
<rect x="174.54" y="117.25" width="1.2" height="1.2" fill="#1a1a1a"/>
<rect x="179.42" y="117.25" width="1.2" height="1.2" fill="#1a1a1a"/>
<rect x="184.31" y="130.92" width="1.2" height="1.2" fill="#1a1a1a"/>
<rect x="189.19" y="130.92" width="1.2" height="1.2" fill="#1a1a1a"/>
<rect x="194.08" y="130.00" width="1.2" height="1.2" fill="#1a1a1a"/>
<rect x="198.97" y="134.56" width="1.2" height="1.2" fill="#1a1a1a"/>
<rect x="203.85" y="140.94" width="1.2" height="1.2" fill="#1a1a1a"/>
<rect x="208.73" y="138.20" width="1.2" height="1.2" fill="#1a1a1a"/>
<rect x="213.62" y="140.03" width="1.2" height="1.2" fill="#1a1a1a"/>
<rect x="218.50" y="144.58" width="1.2" height="1.2" fill="#1a1a1a"/>
<rect x="223.39" y="143.67" width="1.2" height="1.2" fill="#1a1a1a"/>
<rect x="228.28" y="142.76" width="1.2" height="1.2" fill="#1a1a1a"/>
<rect x="233.16" y="146.40" width="1.2" height="1.2" fill="#1a1a1a"/>
<rect x="238.04" y="143.67" width="1.2" height="1.2" fill="#1a1a1a"/>
<rect x="242.93" y="146.40" width="1.2" height="1.2" fill="#1a1a1a"/>
<rect x="247.81" y="142.76" width="1.2" height="1.2" fill="#1a1a1a"/>
<rect x="252.70" y="150.96" width="1.2" height="1.2" fill="#1a1a1a"/>
<rect x="257.58" y="149.14" width="1.2" height="1.2" fill="#1a1a1a"/>
<rect x="262.47" y="151.87" width="1.2" height="1.2" fill="#1a1a1a"/>
<rect x="267.35" y="151.87" width="1.2" height="1.2" fill="#1a1a1a"/>
<rect x="272.24" y="149.14" width="1.2" height="1.2" fill="#1a1a1a"/>
<rect x="277.12" y="151.87" width="1.2" height="1.2" fill="#1a1a1a"/>
<rect x="282.01" y="149.14" width="1.2" height="1.2" fill="#1a1a1a"/>
<polyline points="150.72,94.03 155.60,92.34 160.48,98.72 165.37,101.45 170.25,120.58 175.14,120.58 180.02,136.98 184.91,137.89 189.79,144.27 194.68,144.27 199.56,151.10 204.45,154.29 209.33,155.20 214.22,149.74 219.10,154.29 223.99,149.74 228.88,148.82 233.76,149.74 238.64,148.82 243.53,149.74 248.41,143.36 253.30,127.42 258.19,126.05 263.07,116.94 267.95,100.54 272.84,90.07 277.73,83.23 282.61,75.03 287.50,63.69" fill="none" stroke="#1668e6" stroke-width="0.55" stroke-linejoin="round"/>
<rect x="155.00" y="91.74" width="1.2" height="1.2" fill="#1668e6"/>
<rect x="159.88" y="98.12" width="1.2" height="1.2" fill="#1668e6"/>
<rect x="164.77" y="100.85" width="1.2" height="1.2" fill="#1668e6"/>
<rect x="169.66" y="119.98" width="1.2" height="1.2" fill="#1668e6"/>
<rect x="174.54" y="119.98" width="1.2" height="1.2" fill="#1668e6"/>
<rect x="179.42" y="136.38" width="1.2" height="1.2" fill="#1668e6"/>
<rect x="184.31" y="137.29" width="1.2" height="1.2" fill="#1668e6"/>
<rect x="189.19" y="143.67" width="1.2" height="1.2" fill="#1668e6"/>
<rect x="194.08" y="143.67" width="1.2" height="1.2" fill="#1668e6"/>
<rect x="198.97" y="150.50" width="1.2" height="1.2" fill="#1668e6"/>
<rect x="203.85" y="153.69" width="1.2" height="1.2" fill="#1668e6"/>
<rect x="208.73" y="154.60" width="1.2" height="1.2" fill="#1668e6"/>
<rect x="213.62" y="149.14" width="1.2" height="1.2" fill="#1668e6"/>
<rect x="218.50" y="153.69" width="1.2" height="1.2" fill="#1668e6"/>
<rect x="223.39" y="149.14" width="1.2" height="1.2" fill="#1668e6"/>
<rect x="228.28" y="148.22" width="1.2" height="1.2" fill="#1668e6"/>
<rect x="233.16" y="149.14" width="1.2" height="1.2" fill="#1668e6"/>
<rect x="238.04" y="148.22" width="1.2" height="1.2" fill="#1668e6"/>
<rect x="242.93" y="149.14" width="1.2" height="1.2" fill="#1668e6"/>
<rect x="247.81" y="142.76" width="1.2" height="1.2" fill="#1668e6"/>
<rect x="252.70" y="126.82" width="1.2" height="1.2" fill="#1668e6"/>
<rect x="257.58" y="125.45" width="1.2" height="1.2" fill="#1668e6"/>
<rect x="262.47" y="116.34" width="1.2" height="1.2" fill="#1668e6"/>
<rect x="267.35" y="99.94" width="1.2" height="1.2" fill="#1668e6"/>
<rect x="272.24" y="89.47" width="1.2" height="1.2" fill="#1668e6"/>
<rect x="277.12" y="82.63" width="1.2" height="1.2" fill="#1668e6"/>
<rect x="282.01" y="74.43" width="1.2" height="1.2" fill="#1668e6"/>
<polyline points="150.72,103.68 155.60,116.94 160.48,114.21 165.37,136.07 170.25,136.07 175.14,136.98 180.02,144.27 184.91,154.84 189.79,154.56 194.68,155.48 199.56,159.76 204.45,159.39 209.33,164.68 214.22,160.85 219.10,163.77 223.99,160.67 228.88,159.21 233.76,159.21 238.64,160.67 243.53,149.74 248.41,147.91 253.30,148.82 258.19,143.36 263.07,143.36 267.95,131.52 272.84,123.32 277.73,110.56 282.61,84.14 287.50,62.31" fill="none" stroke="#a354e8" stroke-width="0.55" stroke-linejoin="round"/>
<rect x="155.00" y="116.34" width="1.2" height="1.2" fill="#a354e8"/>
<rect x="159.88" y="113.61" width="1.2" height="1.2" fill="#a354e8"/>
<rect x="164.77" y="135.47" width="1.2" height="1.2" fill="#a354e8"/>
<rect x="169.66" y="135.47" width="1.2" height="1.2" fill="#a354e8"/>
<rect x="174.54" y="136.38" width="1.2" height="1.2" fill="#a354e8"/>
<rect x="179.42" y="143.67" width="1.2" height="1.2" fill="#a354e8"/>
<rect x="184.31" y="154.24" width="1.2" height="1.2" fill="#a354e8"/>
<rect x="189.19" y="153.96" width="1.2" height="1.2" fill="#a354e8"/>
<rect x="194.08" y="154.88" width="1.2" height="1.2" fill="#a354e8"/>
<rect x="198.97" y="159.16" width="1.2" height="1.2" fill="#a354e8"/>
<rect x="203.85" y="158.79" width="1.2" height="1.2" fill="#a354e8"/>
<rect x="208.73" y="164.08" width="1.2" height="1.2" fill="#a354e8"/>
<rect x="213.62" y="160.25" width="1.2" height="1.2" fill="#a354e8"/>
<rect x="218.50" y="163.17" width="1.2" height="1.2" fill="#a354e8"/>
<rect x="223.39" y="160.07" width="1.2" height="1.2" fill="#a354e8"/>
<rect x="228.28" y="158.61" width="1.2" height="1.2" fill="#a354e8"/>
<rect x="233.16" y="158.61" width="1.2" height="1.2" fill="#a354e8"/>
<rect x="238.04" y="160.07" width="1.2" height="1.2" fill="#a354e8"/>
<rect x="242.93" y="149.14" width="1.2" height="1.2" fill="#a354e8"/>
<rect x="247.81" y="147.31" width="1.2" height="1.2" fill="#a354e8"/>
<rect x="252.70" y="148.22" width="1.2" height="1.2" fill="#a354e8"/>
<rect x="257.58" y="142.76" width="1.2" height="1.2" fill="#a354e8"/>
<rect x="262.47" y="142.76" width="1.2" height="1.2" fill="#a354e8"/>
<rect x="267.35" y="130.92" width="1.2" height="1.2" fill="#a354e8"/>
<rect x="272.24" y="122.72" width="1.2" height="1.2" fill="#a354e8"/>
<rect x="277.12" y="109.96" width="1.2" height="1.2" fill="#a354e8"/>
<rect x="282.01" y="83.54" width="1.2" height="1.2" fill="#a354e8"/>
<polyline points="150.72,133.68 155.60,136.07 160.48,140.63 165.37,142.45 170.25,139.72 175.14,140.63 180.02,143.36 184.91,143.36 189.79,144.27 194.68,139.72 199.56,141.54 204.45,140.63 209.33,141.54 214.22,140.63 219.10,141.54 223.99,139.72 228.88,140.63 233.76,139.72 238.64,138.80 243.53,136.98 248.41,133.34 253.30,137.89 258.19,133.34 263.07,136.98 267.95,124.23 272.84,124.23 277.73,126.05 282.61,116.94 287.50,108.17" fill="none" stroke="#12c3cc" stroke-width="0.55" stroke-linejoin="round"/>
<rect x="155.00" y="135.47" width="1.2" height="1.2" fill="#12c3cc"/>
<rect x="159.88" y="140.03" width="1.2" height="1.2" fill="#12c3cc"/>
<rect x="164.77" y="141.85" width="1.2" height="1.2" fill="#12c3cc"/>
<rect x="169.66" y="139.12" width="1.2" height="1.2" fill="#12c3cc"/>
<rect x="174.54" y="140.03" width="1.2" height="1.2" fill="#12c3cc"/>
<rect x="179.42" y="142.76" width="1.2" height="1.2" fill="#12c3cc"/>
<rect x="184.31" y="142.76" width="1.2" height="1.2" fill="#12c3cc"/>
<rect x="189.19" y="143.67" width="1.2" height="1.2" fill="#12c3cc"/>
<rect x="194.08" y="139.12" width="1.2" height="1.2" fill="#12c3cc"/>
<rect x="198.97" y="140.94" width="1.2" height="1.2" fill="#12c3cc"/>
<rect x="203.85" y="140.03" width="1.2" height="1.2" fill="#12c3cc"/>
<rect x="208.73" y="140.94" width="1.2" height="1.2" fill="#12c3cc"/>
<rect x="213.62" y="140.03" width="1.2" height="1.2" fill="#12c3cc"/>
<rect x="218.50" y="140.94" width="1.2" height="1.2" fill="#12c3cc"/>
<rect x="223.39" y="139.12" width="1.2" height="1.2" fill="#12c3cc"/>
<rect x="228.28" y="140.03" width="1.2" height="1.2" fill="#12c3cc"/>
<rect x="233.16" y="139.12" width="1.2" height="1.2" fill="#12c3cc"/>
<rect x="238.04" y="138.20" width="1.2" height="1.2" fill="#12c3cc"/>
<rect x="242.93" y="136.38" width="1.2" height="1.2" fill="#12c3cc"/>
<rect x="247.81" y="132.74" width="1.2" height="1.2" fill="#12c3cc"/>
<rect x="252.70" y="137.29" width="1.2" height="1.2" fill="#12c3cc"/>
<rect x="257.58" y="132.74" width="1.2" height="1.2" fill="#12c3cc"/>
<rect x="262.47" y="136.38" width="1.2" height="1.2" fill="#12c3cc"/>
<rect x="267.35" y="123.63" width="1.2" height="1.2" fill="#12c3cc"/>
<rect x="272.24" y="123.63" width="1.2" height="1.2" fill="#12c3cc"/>
<rect x="277.12" y="125.45" width="1.2" height="1.2" fill="#12c3cc"/>
<rect x="282.01" y="116.34" width="1.2" height="1.2" fill="#12c3cc"/>
<polyline points="150.72,77.83 155.60,85.97 160.48,94.16 165.37,100.54 170.25,101.45 175.14,114.21 180.02,112.38 184.91,113.75 189.79,128.78 194.68,127.87 199.56,128.78 204.45,137.89 209.33,144.27 214.22,143.36 219.10,145.18 223.99,147.91 228.88,157.02 233.76,154.29 238.64,152.47 243.53,153.38 248.41,156.39 253.30,154.29 258.19,157.02 263.07,149.74 267.95,147.46 272.84,147.00 277.73,148.82 282.61,134.25 287.50,135.75" fill="none" stroke="#f0202a" stroke-width="0.55" stroke-linejoin="round"/>
<rect x="155.00" y="85.37" width="1.2" height="1.2" fill="#f0202a"/>
<rect x="159.88" y="93.56" width="1.2" height="1.2" fill="#f0202a"/>
<rect x="164.77" y="99.94" width="1.2" height="1.2" fill="#f0202a"/>
<rect x="169.66" y="100.85" width="1.2" height="1.2" fill="#f0202a"/>
<rect x="174.54" y="113.61" width="1.2" height="1.2" fill="#f0202a"/>
<rect x="179.42" y="111.78" width="1.2" height="1.2" fill="#f0202a"/>
<rect x="184.31" y="113.15" width="1.2" height="1.2" fill="#f0202a"/>
<rect x="189.19" y="128.18" width="1.2" height="1.2" fill="#f0202a"/>
<rect x="194.08" y="127.27" width="1.2" height="1.2" fill="#f0202a"/>
<rect x="198.97" y="128.18" width="1.2" height="1.2" fill="#f0202a"/>
<rect x="203.85" y="137.29" width="1.2" height="1.2" fill="#f0202a"/>
<rect x="208.73" y="143.67" width="1.2" height="1.2" fill="#f0202a"/>
<rect x="213.62" y="142.76" width="1.2" height="1.2" fill="#f0202a"/>
<rect x="218.50" y="144.58" width="1.2" height="1.2" fill="#f0202a"/>
<rect x="223.39" y="147.31" width="1.2" height="1.2" fill="#f0202a"/>
<rect x="228.28" y="156.42" width="1.2" height="1.2" fill="#f0202a"/>
<rect x="233.16" y="153.69" width="1.2" height="1.2" fill="#f0202a"/>
<rect x="238.04" y="151.87" width="1.2" height="1.2" fill="#f0202a"/>
<rect x="242.93" y="152.78" width="1.2" height="1.2" fill="#f0202a"/>
<rect x="247.81" y="155.79" width="1.2" height="1.2" fill="#f0202a"/>
<rect x="252.70" y="153.69" width="1.2" height="1.2" fill="#f0202a"/>
<rect x="257.58" y="156.42" width="1.2" height="1.2" fill="#f0202a"/>
<rect x="262.47" y="149.14" width="1.2" height="1.2" fill="#f0202a"/>
<rect x="267.35" y="146.86" width="1.2" height="1.2" fill="#f0202a"/>
<rect x="272.24" y="146.40" width="1.2" height="1.2" fill="#f0202a"/>
<rect x="277.12" y="148.22" width="1.2" height="1.2" fill="#f0202a"/>
<rect x="282.01" y="133.65" width="1.2" height="1.2" fill="#f0202a"/>
<polyline points="150.72,102.99 155.60,107.83 160.48,106.92 165.37,114.21 170.25,121.49 175.14,128.78 180.02,136.07 184.91,141.54 189.79,143.36 194.68,147.91 199.56,153.38 204.45,153.38 209.33,153.38 214.22,153.84 219.10,159.76 223.99,159.12 228.88,153.38 233.76,153.38 238.64,159.76 243.53,153.38 248.41,141.54 253.30,147.46 258.19,141.54 263.07,141.54 267.95,114.21 272.84,110.56 277.73,92.34 282.61,85.97 287.50,69.21" fill="none" stroke="#1fa55e" stroke-width="0.55" stroke-linejoin="round"/>
<rect x="155.00" y="107.23" width="1.2" height="1.2" fill="#1fa55e"/>
<rect x="159.88" y="106.32" width="1.2" height="1.2" fill="#1fa55e"/>
<rect x="164.77" y="113.61" width="1.2" height="1.2" fill="#1fa55e"/>
<rect x="169.66" y="120.89" width="1.2" height="1.2" fill="#1fa55e"/>
<rect x="174.54" y="128.18" width="1.2" height="1.2" fill="#1fa55e"/>
<rect x="179.42" y="135.47" width="1.2" height="1.2" fill="#1fa55e"/>
<rect x="184.31" y="140.94" width="1.2" height="1.2" fill="#1fa55e"/>
<rect x="189.19" y="142.76" width="1.2" height="1.2" fill="#1fa55e"/>
<rect x="194.08" y="147.31" width="1.2" height="1.2" fill="#1fa55e"/>
<rect x="198.97" y="152.78" width="1.2" height="1.2" fill="#1fa55e"/>
<rect x="203.85" y="152.78" width="1.2" height="1.2" fill="#1fa55e"/>
<rect x="208.73" y="152.78" width="1.2" height="1.2" fill="#1fa55e"/>
<rect x="213.62" y="153.24" width="1.2" height="1.2" fill="#1fa55e"/>
<rect x="218.50" y="159.16" width="1.2" height="1.2" fill="#1fa55e"/>
<rect x="223.39" y="158.52" width="1.2" height="1.2" fill="#1fa55e"/>
<rect x="228.28" y="152.78" width="1.2" height="1.2" fill="#1fa55e"/>
<rect x="233.16" y="152.78" width="1.2" height="1.2" fill="#1fa55e"/>
<rect x="238.04" y="159.16" width="1.2" height="1.2" fill="#1fa55e"/>
<rect x="242.93" y="152.78" width="1.2" height="1.2" fill="#1fa55e"/>
<rect x="247.81" y="140.94" width="1.2" height="1.2" fill="#1fa55e"/>
<rect x="252.70" y="146.86" width="1.2" height="1.2" fill="#1fa55e"/>
<rect x="257.58" y="140.94" width="1.2" height="1.2" fill="#1fa55e"/>
<rect x="262.47" y="140.94" width="1.2" height="1.2" fill="#1fa55e"/>
<rect x="267.35" y="113.61" width="1.2" height="1.2" fill="#1fa55e"/>
<rect x="272.24" y="109.96" width="1.2" height="1.2" fill="#1fa55e"/>
<rect x="277.12" y="91.74" width="1.2" height="1.2" fill="#1fa55e"/>
<rect x="282.01" y="85.37" width="1.2" height="1.2" fill="#1fa55e"/>
<polyline points="150.72,-15.60 155.60,16.73 160.48,44.06 165.37,66.84 170.25,96.90 175.14,109.20 180.02,123.32 184.91,135.16 189.79,140.63 194.68,145.18 199.56,147.00 204.45,147.00 209.33,147.00 214.22,152.47 219.10,147.00 223.99,147.00 228.88,147.00 233.76,141.54 238.64,140.63 243.53,141.54 248.41,134.25 253.30,128.78 258.19,128.78 263.07,123.32 267.95,116.03 272.84,106.92 277.73,106.01 282.61,92.34 287.50,60.59" fill="none" stroke="#c8900f" stroke-width="0.55" stroke-linejoin="round"/>
<rect x="155.00" y="16.13" width="1.2" height="1.2" fill="#c8900f"/>
<rect x="159.88" y="43.46" width="1.2" height="1.2" fill="#c8900f"/>
<rect x="164.77" y="66.24" width="1.2" height="1.2" fill="#c8900f"/>
<rect x="169.66" y="96.30" width="1.2" height="1.2" fill="#c8900f"/>
<rect x="174.54" y="108.60" width="1.2" height="1.2" fill="#c8900f"/>
<rect x="179.42" y="122.72" width="1.2" height="1.2" fill="#c8900f"/>
<rect x="184.31" y="134.56" width="1.2" height="1.2" fill="#c8900f"/>
<rect x="189.19" y="140.03" width="1.2" height="1.2" fill="#c8900f"/>
<rect x="194.08" y="144.58" width="1.2" height="1.2" fill="#c8900f"/>
<rect x="198.97" y="146.40" width="1.2" height="1.2" fill="#c8900f"/>
<rect x="203.85" y="146.40" width="1.2" height="1.2" fill="#c8900f"/>
<rect x="208.73" y="146.40" width="1.2" height="1.2" fill="#c8900f"/>
<rect x="213.62" y="151.87" width="1.2" height="1.2" fill="#c8900f"/>
<rect x="218.50" y="146.40" width="1.2" height="1.2" fill="#c8900f"/>
<rect x="223.39" y="146.40" width="1.2" height="1.2" fill="#c8900f"/>
<rect x="228.28" y="146.40" width="1.2" height="1.2" fill="#c8900f"/>
<rect x="233.16" y="140.94" width="1.2" height="1.2" fill="#c8900f"/>
<rect x="238.04" y="140.03" width="1.2" height="1.2" fill="#c8900f"/>
<rect x="242.93" y="140.94" width="1.2" height="1.2" fill="#c8900f"/>
<rect x="247.81" y="133.65" width="1.2" height="1.2" fill="#c8900f"/>
<rect x="252.70" y="128.18" width="1.2" height="1.2" fill="#c8900f"/>
<rect x="257.58" y="128.18" width="1.2" height="1.2" fill="#c8900f"/>
<rect x="262.47" y="122.72" width="1.2" height="1.2" fill="#c8900f"/>
<rect x="267.35" y="115.43" width="1.2" height="1.2" fill="#c8900f"/>
<rect x="272.24" y="106.32" width="1.2" height="1.2" fill="#c8900f"/>
<rect x="277.12" y="105.41" width="1.2" height="1.2" fill="#c8900f"/>
<rect x="282.01" y="91.74" width="1.2" height="1.2" fill="#c8900f"/>
<polyline points="150.72,124.71 155.60,135.16 160.48,136.98 165.37,137.89 170.25,144.27 175.14,143.36 180.02,144.27 184.91,145.18 189.79,144.27 194.68,145.18 199.56,143.36 204.45,144.27 209.33,146.09 214.22,142.45 219.10,144.27 223.99,144.27 228.88,143.36 233.76,139.72 238.64,140.63 243.53,144.27 248.41,134.25 253.30,134.25 258.19,137.89 263.07,133.34 267.95,125.14 272.84,122.41 277.73,113.30 282.61,101.45 287.50,83.34" fill="none" stroke="#6e1c1c" stroke-width="0.55" stroke-linejoin="round"/>
<rect x="155.00" y="134.56" width="1.2" height="1.2" fill="#6e1c1c"/>
<rect x="159.88" y="136.38" width="1.2" height="1.2" fill="#6e1c1c"/>
<rect x="164.77" y="137.29" width="1.2" height="1.2" fill="#6e1c1c"/>
<rect x="169.66" y="143.67" width="1.2" height="1.2" fill="#6e1c1c"/>
<rect x="174.54" y="142.76" width="1.2" height="1.2" fill="#6e1c1c"/>
<rect x="179.42" y="143.67" width="1.2" height="1.2" fill="#6e1c1c"/>
<rect x="184.31" y="144.58" width="1.2" height="1.2" fill="#6e1c1c"/>
<rect x="189.19" y="143.67" width="1.2" height="1.2" fill="#6e1c1c"/>
<rect x="194.08" y="144.58" width="1.2" height="1.2" fill="#6e1c1c"/>
<rect x="198.97" y="142.76" width="1.2" height="1.2" fill="#6e1c1c"/>
<rect x="203.85" y="143.67" width="1.2" height="1.2" fill="#6e1c1c"/>
<rect x="208.73" y="145.49" width="1.2" height="1.2" fill="#6e1c1c"/>
<rect x="213.62" y="141.85" width="1.2" height="1.2" fill="#6e1c1c"/>
<rect x="218.50" y="143.67" width="1.2" height="1.2" fill="#6e1c1c"/>
<rect x="223.39" y="143.67" width="1.2" height="1.2" fill="#6e1c1c"/>
<rect x="228.28" y="142.76" width="1.2" height="1.2" fill="#6e1c1c"/>
<rect x="233.16" y="139.12" width="1.2" height="1.2" fill="#6e1c1c"/>
<rect x="238.04" y="140.03" width="1.2" height="1.2" fill="#6e1c1c"/>
<rect x="242.93" y="143.67" width="1.2" height="1.2" fill="#6e1c1c"/>
<rect x="247.81" y="133.65" width="1.2" height="1.2" fill="#6e1c1c"/>
<rect x="252.70" y="133.65" width="1.2" height="1.2" fill="#6e1c1c"/>
<rect x="257.58" y="137.29" width="1.2" height="1.2" fill="#6e1c1c"/>
<rect x="262.47" y="132.74" width="1.2" height="1.2" fill="#6e1c1c"/>
<rect x="267.35" y="124.54" width="1.2" height="1.2" fill="#6e1c1c"/>
<rect x="272.24" y="121.81" width="1.2" height="1.2" fill="#6e1c1c"/>
<rect x="277.12" y="112.70" width="1.2" height="1.2" fill="#6e1c1c"/>
<rect x="282.01" y="100.85" width="1.2" height="1.2" fill="#6e1c1c"/>
</g>
<rect x="155.5" y="80.3" width="130.3" height="91.3" fill="none" stroke="#8a8a8a" stroke-width="0.8"/>
<line x1="159.44" x2="159.44" y1="171.6" y2="172.5" stroke="#222" stroke-width="0.6"/>
<line x1="163.23" x2="163.23" y1="171.6" y2="172.5" stroke="#222" stroke-width="0.6"/>
<line x1="166.51" x2="166.51" y1="171.6" y2="172.5" stroke="#222" stroke-width="0.6"/>
<line x1="169.41" x2="169.41" y1="171.6" y2="172.5" stroke="#222" stroke-width="0.6"/>
<line x1="172.00" x2="172.00" y1="171.6" y2="173.2" stroke="#222" stroke-width="0.6"/>
<line x1="189.04" x2="189.04" y1="171.6" y2="172.5" stroke="#222" stroke-width="0.6"/>
<line x1="199.01" x2="199.01" y1="171.6" y2="172.5" stroke="#222" stroke-width="0.6"/>
<line x1="206.08" x2="206.08" y1="171.6" y2="172.5" stroke="#222" stroke-width="0.6"/>
<line x1="211.56" x2="211.56" y1="171.6" y2="172.5" stroke="#222" stroke-width="0.6"/>
<line x1="216.04" x2="216.04" y1="171.6" y2="172.5" stroke="#222" stroke-width="0.6"/>
<line x1="219.83" x2="219.83" y1="171.6" y2="172.5" stroke="#222" stroke-width="0.6"/>
<line x1="223.11" x2="223.11" y1="171.6" y2="172.5" stroke="#222" stroke-width="0.6"/>
<line x1="226.01" x2="226.01" y1="171.6" y2="172.5" stroke="#222" stroke-width="0.6"/>
<line x1="228.60" x2="228.60" y1="171.6" y2="173.2" stroke="#222" stroke-width="0.6"/>
<line x1="245.64" x2="245.64" y1="171.6" y2="172.5" stroke="#222" stroke-width="0.6"/>
<line x1="255.61" x2="255.61" y1="171.6" y2="172.5" stroke="#222" stroke-width="0.6"/>
<line x1="262.68" x2="262.68" y1="171.6" y2="172.5" stroke="#222" stroke-width="0.6"/>
<line x1="268.16" x2="268.16" y1="171.6" y2="172.5" stroke="#222" stroke-width="0.6"/>
<line x1="272.64" x2="272.64" y1="171.6" y2="172.5" stroke="#222" stroke-width="0.6"/>
<line x1="276.43" x2="276.43" y1="171.6" y2="172.5" stroke="#222" stroke-width="0.6"/>
<line x1="279.71" x2="279.71" y1="171.6" y2="172.5" stroke="#222" stroke-width="0.6"/>
<line x1="282.61" x2="282.61" y1="171.6" y2="172.5" stroke="#222" stroke-width="0.6"/>
<line x1="285.20" x2="285.20" y1="171.6" y2="173.2" stroke="#222" stroke-width="0.6"/>
<text x="172.00" y="178.2" font-size="4.5" text-anchor="middle" fill="#222" stroke="#222" stroke-width="0.3">100</text>
<text x="228.60" y="178.2" font-size="4.5" text-anchor="middle" fill="#222" stroke="#222" stroke-width="0.3">1000</text>
<text x="285.20" y="178.2" font-size="4.5" text-anchor="middle" fill="#222" stroke="#222" stroke-width="0.3">10000</text>
<line x1="153.9" x2="155.5" y1="171.60" y2="171.60" stroke="#333" stroke-width="0.4"/>
<line x1="285.8" x2="287.40000000000003" y1="171.60" y2="171.60" stroke="#333" stroke-width="0.4"/>
<text transform="translate(150.6,171.60) rotate(-90)" font-size="4.5" text-anchor="middle" fill="#222" stroke="#222" stroke-width="0.3">0.0000</text>
<line x1="153.9" x2="155.5" y1="153.38" y2="153.38" stroke="#333" stroke-width="0.4"/>
<line x1="285.8" x2="287.40000000000003" y1="153.38" y2="153.38" stroke="#333" stroke-width="0.4"/>
<text transform="translate(150.6,153.38) rotate(-90)" font-size="4.5" text-anchor="middle" fill="#222" stroke="#222" stroke-width="0.3">0.0002</text>
<line x1="153.9" x2="155.5" y1="135.16" y2="135.16" stroke="#333" stroke-width="0.4"/>
<line x1="285.8" x2="287.40000000000003" y1="135.16" y2="135.16" stroke="#333" stroke-width="0.4"/>
<text transform="translate(150.6,135.16) rotate(-90)" font-size="4.5" text-anchor="middle" fill="#222" stroke="#222" stroke-width="0.3">0.0004</text>
<line x1="153.9" x2="155.5" y1="116.94" y2="116.94" stroke="#333" stroke-width="0.4"/>
<line x1="285.8" x2="287.40000000000003" y1="116.94" y2="116.94" stroke="#333" stroke-width="0.4"/>
<text transform="translate(150.6,116.94) rotate(-90)" font-size="4.5" text-anchor="middle" fill="#222" stroke="#222" stroke-width="0.3">0.0006</text>
<line x1="153.9" x2="155.5" y1="98.72" y2="98.72" stroke="#333" stroke-width="0.4"/>
<line x1="285.8" x2="287.40000000000003" y1="98.72" y2="98.72" stroke="#333" stroke-width="0.4"/>
<text transform="translate(150.6,98.72) rotate(-90)" font-size="4.5" text-anchor="middle" fill="#222" stroke="#222" stroke-width="0.3">0.0008</text>
<line x1="153.9" x2="155.5" y1="80.50" y2="80.50" stroke="#333" stroke-width="0.4"/>
<line x1="285.8" x2="287.40000000000003" y1="80.50" y2="80.50" stroke="#333" stroke-width="0.4"/>
<text transform="translate(150.6,80.50) rotate(-90)" font-size="4.5" text-anchor="middle" fill="#222" stroke="#222" stroke-width="0.3">0.0010</text>
<line x1="208.1" x2="208.1" y1="182" y2="196.1" stroke="#000" stroke-width="1.2"/>
<polygon points="208.1,178.2 206.0,184.2 210.2,184.2" fill="#000"/>
<rect x="38.1" y="11.3" width="307.70" height="211.40" fill="none" stroke="#161616" stroke-width="1.05"/>
<line x1="34.7" x2="38.1" y1="222.70" y2="222.70" stroke="#000" stroke-width="1"/>
<text transform="translate(28.5,222.70) rotate(-90)" font-size="10.7" text-anchor="middle" fill="#000" stroke="#000" stroke-width="0.3">0.000</text>
<line x1="36.1" x2="38.1" y1="196.27" y2="196.27" stroke="#000" stroke-width="1"/>
<line x1="34.7" x2="38.1" y1="169.85" y2="169.85" stroke="#000" stroke-width="1"/>
<text transform="translate(28.5,169.85) rotate(-90)" font-size="10.7" text-anchor="middle" fill="#000" stroke="#000" stroke-width="0.3">0.002</text>
<line x1="36.1" x2="38.1" y1="143.43" y2="143.43" stroke="#000" stroke-width="1"/>
<line x1="34.7" x2="38.1" y1="117.00" y2="117.00" stroke="#000" stroke-width="1"/>
<text transform="translate(28.5,117.00) rotate(-90)" font-size="10.7" text-anchor="middle" fill="#000" stroke="#000" stroke-width="0.3">0.004</text>
<line x1="36.1" x2="38.1" y1="90.57" y2="90.57" stroke="#000" stroke-width="1"/>
<line x1="34.7" x2="38.1" y1="64.15" y2="64.15" stroke="#000" stroke-width="1"/>
<text transform="translate(28.5,64.15) rotate(-90)" font-size="10.7" text-anchor="middle" fill="#000" stroke="#000" stroke-width="0.3">0.006</text>
<line x1="36.1" x2="38.1" y1="37.73" y2="37.73" stroke="#000" stroke-width="1"/>
<line x1="34.7" x2="38.1" y1="11.30" y2="11.30" stroke="#000" stroke-width="1"/>
<text transform="translate(28.5,11.30) rotate(-90)" font-size="10.7" text-anchor="middle" fill="#000" stroke="#000" stroke-width="0.3">0.008</text>
<line x1="47.31" x2="47.31" y1="222.7" y2="224.7" stroke="#000" stroke-width="1"/>
<line x1="54.54" x2="54.54" y1="222.7" y2="224.7" stroke="#000" stroke-width="1"/>
<line x1="60.45" x2="60.45" y1="222.7" y2="224.7" stroke="#000" stroke-width="1"/>
<line x1="65.44" x2="65.44" y1="222.7" y2="224.7" stroke="#000" stroke-width="1"/>
<line x1="69.77" x2="69.77" y1="222.7" y2="224.7" stroke="#000" stroke-width="1"/>
<line x1="73.59" x2="73.59" y1="222.7" y2="224.7" stroke="#000" stroke-width="1"/>
<line x1="77.00" x2="77.00" y1="222.7" y2="226.29999999999998" stroke="#000" stroke-width="1"/>
<line x1="99.46" x2="99.46" y1="222.7" y2="224.7" stroke="#000" stroke-width="1"/>
<line x1="112.59" x2="112.59" y1="222.7" y2="224.7" stroke="#000" stroke-width="1"/>
<line x1="121.91" x2="121.91" y1="222.7" y2="224.7" stroke="#000" stroke-width="1"/>
<line x1="129.14" x2="129.14" y1="222.7" y2="224.7" stroke="#000" stroke-width="1"/>
<line x1="135.05" x2="135.05" y1="222.7" y2="224.7" stroke="#000" stroke-width="1"/>
<line x1="140.04" x2="140.04" y1="222.7" y2="224.7" stroke="#000" stroke-width="1"/>
<line x1="144.37" x2="144.37" y1="222.7" y2="224.7" stroke="#000" stroke-width="1"/>
<line x1="148.19" x2="148.19" y1="222.7" y2="224.7" stroke="#000" stroke-width="1"/>
<line x1="151.60" x2="151.60" y1="222.7" y2="226.29999999999998" stroke="#000" stroke-width="1"/>
<line x1="174.06" x2="174.06" y1="222.7" y2="224.7" stroke="#000" stroke-width="1"/>
<line x1="187.19" x2="187.19" y1="222.7" y2="224.7" stroke="#000" stroke-width="1"/>
<line x1="196.51" x2="196.51" y1="222.7" y2="224.7" stroke="#000" stroke-width="1"/>
<line x1="203.74" x2="203.74" y1="222.7" y2="224.7" stroke="#000" stroke-width="1"/>
<line x1="209.65" x2="209.65" y1="222.7" y2="224.7" stroke="#000" stroke-width="1"/>
<line x1="214.64" x2="214.64" y1="222.7" y2="224.7" stroke="#000" stroke-width="1"/>
<line x1="218.97" x2="218.97" y1="222.7" y2="224.7" stroke="#000" stroke-width="1"/>
<line x1="222.79" x2="222.79" y1="222.7" y2="224.7" stroke="#000" stroke-width="1"/>
<line x1="226.20" x2="226.20" y1="222.7" y2="226.29999999999998" stroke="#000" stroke-width="1"/>
<line x1="248.66" x2="248.66" y1="222.7" y2="224.7" stroke="#000" stroke-width="1"/>
<line x1="261.79" x2="261.79" y1="222.7" y2="224.7" stroke="#000" stroke-width="1"/>
<line x1="271.11" x2="271.11" y1="222.7" y2="224.7" stroke="#000" stroke-width="1"/>
<line x1="278.34" x2="278.34" y1="222.7" y2="224.7" stroke="#000" stroke-width="1"/>
<line x1="284.25" x2="284.25" y1="222.7" y2="224.7" stroke="#000" stroke-width="1"/>
<line x1="289.24" x2="289.24" y1="222.7" y2="224.7" stroke="#000" stroke-width="1"/>
<line x1="293.57" x2="293.57" y1="222.7" y2="224.7" stroke="#000" stroke-width="1"/>
<line x1="297.39" x2="297.39" y1="222.7" y2="224.7" stroke="#000" stroke-width="1"/>
<line x1="300.80" x2="300.80" y1="222.7" y2="226.29999999999998" stroke="#000" stroke-width="1"/>
<line x1="323.26" x2="323.26" y1="222.7" y2="224.7" stroke="#000" stroke-width="1"/>
<line x1="336.39" x2="336.39" y1="222.7" y2="224.7" stroke="#000" stroke-width="1"/>
<line x1="345.71" x2="345.71" y1="222.7" y2="224.7" stroke="#000" stroke-width="1"/>
<text x="76.70" y="239.0" font-size="10.4" text-anchor="middle" fill="#000" stroke="#000" stroke-width="0.3">10</text>
<text x="151.30" y="239.0" font-size="10.4" text-anchor="middle" fill="#000" stroke="#000" stroke-width="0.3">100</text>
<text x="225.90" y="239.0" font-size="10.4" text-anchor="middle" fill="#000" stroke="#000" stroke-width="0.3">1000</text>
<text x="300.50" y="239.0" font-size="10.4" text-anchor="middle" fill="#000" stroke="#000" stroke-width="0.3">10000</text>
<text transform="translate(192.1,256.9) scale(1,1.06)" font-size="12" text-anchor="middle" fill="#000" stroke="#000" stroke-width="0.3">Pore size Diameter (nm)</text>
<text transform="translate(9.0,117.3) rotate(-90) scale(1,0.92)" font-size="12.05" text-anchor="middle" fill="#000" style="white-space:pre" stroke="#000" stroke-width="0.3">Incremental Intrusion Volume  (mL/g)</text>
<text x="331.3" y="24.4" font-size="13" font-weight="bold" text-anchor="middle" fill="#000" stroke="#000" stroke-width="0.25">(a)</text>
<rect x="41.7" y="14.6" width="130.9" height="55.9" fill="#fff" stroke="#8c8c8c" stroke-width="0.8"/>
<line x1="43.4" x2="68.0" y1="22.6" y2="22.6" stroke="#1a1a1a" stroke-width="0.85"/>
<rect x="54.51" y="21.41" width="2.38" height="2.38" fill="#1a1a1a"/>
<text x="71.2" y="26.1" font-size="10.8" fill="#000" stroke="#000" stroke-width="0.3">WJ</text>
<line x1="95.0" x2="119.6" y1="22.6" y2="22.6" stroke="#f0202a" stroke-width="0.85"/>
<circle cx="107.30" cy="22.60" r="1.40" fill="#f0202a"/>
<text x="123.0" y="26.1" font-size="10.8" fill="#000" stroke="#000" stroke-width="0.3">WJ treated</text>
<line x1="43.4" x2="68.0" y1="36.2" y2="36.2" stroke="#1668e6" stroke-width="0.85"/>
<polygon points="55.70,34.59 57.31,37.49 54.09,37.49" fill="#1668e6"/>
<text x="71.2" y="39.7" font-size="10.8" fill="#000" stroke="#000" stroke-width="0.3">DH</text>
<line x1="95.0" x2="119.6" y1="36.2" y2="36.2" stroke="#1fa55e" stroke-width="0.85"/>
<polygon points="107.30,37.81 108.91,34.91 105.69,34.91" fill="#1fa55e"/>
<text x="123.0" y="39.7" font-size="10.8" fill="#000" stroke="#000" stroke-width="0.3">DH treated</text>
<line x1="43.4" x2="68.0" y1="49.7" y2="49.7" stroke="#a354e8" stroke-width="0.85"/>
<polygon points="55.70,48.09 57.31,49.70 55.70,51.31 54.09,49.70" fill="#a354e8"/>
<text x="71.2" y="53.2" font-size="10.8" fill="#000" stroke="#000" stroke-width="0.3">TC</text>
<line x1="95.0" x2="119.6" y1="49.7" y2="49.7" stroke="#c8900f" stroke-width="0.85"/>
<polygon points="105.69,49.70 108.59,48.09 108.59,51.31" fill="#c8900f"/>
<text x="123.0" y="53.2" font-size="10.8" fill="#000" stroke="#000" stroke-width="0.3">TC treated</text>
<line x1="43.4" x2="68.0" y1="63.3" y2="63.3" stroke="#12c3cc" stroke-width="0.85"/>
<polygon points="57.31,63.30 54.41,61.69 54.41,64.91" fill="#12c3cc"/>
<text x="71.2" y="66.8" font-size="10.8" fill="#000" stroke="#000" stroke-width="0.3">BL</text>
<line x1="95.0" x2="119.6" y1="63.3" y2="63.3" stroke="#6e1c1c" stroke-width="0.85"/>
<circle cx="107.30" cy="63.30" r="1.40" fill="#6e1c1c"/>
<text x="123.0" y="66.8" font-size="10.8" fill="#000" stroke="#000" stroke-width="0.3">BL treated</text>
<line x1="418.7" x2="681.3" y1="207.70" y2="207.70" stroke="#eeeeee" stroke-width="0.7" stroke-dasharray="1.2,1.2"/>
<line x1="418.7" x2="681.3" y1="192.60" y2="192.60" stroke="#c4c4c4" stroke-width="0.7" stroke-dasharray="1.2,1.2"/>
<line x1="418.7" x2="681.3" y1="177.50" y2="177.50" stroke="#eeeeee" stroke-width="0.7" stroke-dasharray="1.2,1.2"/>
<line x1="418.7" x2="681.3" y1="162.40" y2="162.40" stroke="#c4c4c4" stroke-width="0.7" stroke-dasharray="1.2,1.2"/>
<line x1="418.7" x2="681.3" y1="147.30" y2="147.30" stroke="#eeeeee" stroke-width="0.7" stroke-dasharray="1.2,1.2"/>
<line x1="418.7" x2="681.3" y1="132.20" y2="132.20" stroke="#c4c4c4" stroke-width="0.7" stroke-dasharray="1.2,1.2"/>
<line x1="418.7" x2="681.3" y1="117.10" y2="117.10" stroke="#eeeeee" stroke-width="0.7" stroke-dasharray="1.2,1.2"/>
<line x1="418.7" x2="681.3" y1="102.00" y2="102.00" stroke="#c4c4c4" stroke-width="0.7" stroke-dasharray="1.2,1.2"/>
<line x1="418.7" x2="681.3" y1="86.90" y2="86.90" stroke="#eeeeee" stroke-width="0.7" stroke-dasharray="1.2,1.2"/>
<line x1="418.7" x2="681.3" y1="71.80" y2="71.80" stroke="#c4c4c4" stroke-width="0.7" stroke-dasharray="1.2,1.2"/>
<line x1="418.7" x2="681.3" y1="56.70" y2="56.70" stroke="#eeeeee" stroke-width="0.7" stroke-dasharray="1.2,1.2"/>
<line x1="418.7" x2="681.3" y1="41.60" y2="41.60" stroke="#c4c4c4" stroke-width="0.7" stroke-dasharray="1.2,1.2"/>
<line x1="418.7" x2="681.3" y1="26.50" y2="26.50" stroke="#eeeeee" stroke-width="0.7" stroke-dasharray="1.2,1.2"/>
<rect x="430.93" y="211.20" width="19.3" height="11.60" fill="#fccb9b" stroke="#3e3e3e" stroke-width="0.7"/>
<rect x="430.93" y="175.00" width="19.3" height="36.20" fill="#98d69b" stroke="#3e3e3e" stroke-width="0.7"/>
<rect x="430.93" y="164.60" width="19.3" height="10.40" fill="#c9b9e2" stroke="#3e3e3e" stroke-width="0.7"/>
<rect x="430.93" y="113.20" width="19.3" height="51.40" fill="#fffda0" stroke="#3e3e3e" stroke-width="0.7"/>
<rect x="452.82" y="207.40" width="19.3" height="15.40" fill="#fccb9b" stroke="#3e3e3e" stroke-width="0.7"/>
<rect x="452.82" y="166.30" width="19.3" height="41.10" fill="#98d69b" stroke="#3e3e3e" stroke-width="0.7"/>
<rect x="452.82" y="157.00" width="19.3" height="9.30" fill="#c9b9e2" stroke="#3e3e3e" stroke-width="0.7"/>
<rect x="452.82" y="98.50" width="19.3" height="58.50" fill="#fffda0" stroke="#3e3e3e" stroke-width="0.7"/>
<rect x="496.58" y="206.00" width="19.3" height="16.80" fill="#fccb9b" stroke="#3e3e3e" stroke-width="0.7"/>
<rect x="496.58" y="164.80" width="19.3" height="41.20" fill="#98d69b" stroke="#3e3e3e" stroke-width="0.7"/>
<rect x="496.58" y="150.70" width="19.3" height="14.10" fill="#c9b9e2" stroke="#3e3e3e" stroke-width="0.7"/>
<rect x="496.58" y="136.80" width="19.3" height="13.90" fill="#fffda0" stroke="#3e3e3e" stroke-width="0.7"/>
<rect x="518.47" y="204.80" width="19.3" height="18.00" fill="#fccb9b" stroke="#3e3e3e" stroke-width="0.7"/>
<rect x="518.47" y="157.30" width="19.3" height="47.50" fill="#98d69b" stroke="#3e3e3e" stroke-width="0.7"/>
<rect x="518.47" y="141.40" width="19.3" height="15.90" fill="#c9b9e2" stroke="#3e3e3e" stroke-width="0.7"/>
<rect x="518.47" y="125.00" width="19.3" height="16.40" fill="#fffda0" stroke="#3e3e3e" stroke-width="0.7"/>
<rect x="562.23" y="178.40" width="19.3" height="44.40" fill="#fccb9b" stroke="#3e3e3e" stroke-width="0.7"/>
<rect x="562.23" y="129.40" width="19.3" height="49.00" fill="#98d69b" stroke="#3e3e3e" stroke-width="0.7"/>
<rect x="562.23" y="123.60" width="19.3" height="5.80" fill="#c9b9e2" stroke="#3e3e3e" stroke-width="0.7"/>
<rect x="562.23" y="59.00" width="19.3" height="64.60" fill="#fffda0" stroke="#3e3e3e" stroke-width="0.7"/>
<rect x="584.12" y="195.50" width="19.3" height="27.30" fill="#fccb9b" stroke="#3e3e3e" stroke-width="0.7"/>
<rect x="584.12" y="108.80" width="19.3" height="86.70" fill="#98d69b" stroke="#3e3e3e" stroke-width="0.7"/>
<rect x="584.12" y="96.40" width="19.3" height="12.40" fill="#c9b9e2" stroke="#3e3e3e" stroke-width="0.7"/>
<rect x="584.12" y="23.60" width="19.3" height="72.80" fill="#fffda0" stroke="#3e3e3e" stroke-width="0.7"/>
<rect x="627.88" y="207.00" width="19.3" height="15.80" fill="#fccb9b" stroke="#3e3e3e" stroke-width="0.7"/>
<rect x="627.88" y="185.00" width="19.3" height="22.00" fill="#98d69b" stroke="#3e3e3e" stroke-width="0.7"/>
<rect x="627.88" y="173.40" width="19.3" height="11.60" fill="#c9b9e2" stroke="#3e3e3e" stroke-width="0.7"/>
<rect x="627.88" y="131.80" width="19.3" height="41.60" fill="#fffda0" stroke="#3e3e3e" stroke-width="0.7"/>
<rect x="649.77" y="211.60" width="19.3" height="11.20" fill="#fccb9b" stroke="#3e3e3e" stroke-width="0.7"/>
<rect x="649.77" y="184.70" width="19.3" height="26.90" fill="#98d69b" stroke="#3e3e3e" stroke-width="0.7"/>
<rect x="649.77" y="174.40" width="19.3" height="10.30" fill="#c9b9e2" stroke="#3e3e3e" stroke-width="0.7"/>
<rect x="649.77" y="125.10" width="19.3" height="49.30" fill="#fffda0" stroke="#3e3e3e" stroke-width="0.7"/>
<text x="440.78" y="220.65" font-size="8" font-weight="bold" text-anchor="middle" fill="#000" stroke="#000" stroke-width="0.25">11%</text>
<text x="440.78" y="193.85" font-size="8" font-weight="bold" text-anchor="middle" fill="#000" stroke="#000" stroke-width="0.25">33%</text>
<text x="440.78" y="173.25" font-size="8" font-weight="bold" text-anchor="middle" fill="#000" stroke="#000" stroke-width="0.25">9%</text>
<text x="440.78" y="140.05" font-size="8" font-weight="bold" text-anchor="middle" fill="#000" stroke="#000" stroke-width="0.25">47%</text>
<text x="462.67" y="218.15" font-size="8" font-weight="bold" text-anchor="middle" fill="#000" stroke="#000" stroke-width="0.25">12%</text>
<text x="462.67" y="188.25" font-size="8" font-weight="bold" text-anchor="middle" fill="#000" stroke="#000" stroke-width="0.25">33%</text>
<text x="462.67" y="165.15" font-size="8" font-weight="bold" text-anchor="middle" fill="#000" stroke="#000" stroke-width="0.25">8%</text>
<text x="462.67" y="133.95" font-size="8" font-weight="bold" text-anchor="middle" fill="#000" stroke="#000" stroke-width="0.25">47%</text>
<text x="506.43" y="217.75" font-size="8" font-weight="bold" text-anchor="middle" fill="#000" stroke="#000" stroke-width="0.25">20%</text>
<text x="506.43" y="188.95" font-size="8" font-weight="bold" text-anchor="middle" fill="#000" stroke="#000" stroke-width="0.25">47%</text>
<text x="506.43" y="161.55" font-size="8" font-weight="bold" text-anchor="middle" fill="#000" stroke="#000" stroke-width="0.25">17%</text>
<text x="506.43" y="146.65" font-size="8" font-weight="bold" text-anchor="middle" fill="#000" stroke="#000" stroke-width="0.25">16%</text>
<text x="528.32" y="218.15" font-size="8" font-weight="bold" text-anchor="middle" fill="#000" stroke="#000" stroke-width="0.25">18%</text>
<text x="528.32" y="184.65" font-size="8" font-weight="bold" text-anchor="middle" fill="#000" stroke="#000" stroke-width="0.25">49%</text>
<text x="528.32" y="153.15" font-size="8" font-weight="bold" text-anchor="middle" fill="#000" stroke="#000" stroke-width="0.25">16%</text>
<text x="528.32" y="137.65" font-size="8" font-weight="bold" text-anchor="middle" fill="#000" stroke="#000" stroke-width="0.25">17%</text>
<text x="572.08" y="203.55" font-size="8" font-weight="bold" text-anchor="middle" fill="#000" stroke="#000" stroke-width="0.25">27%</text>
<text x="572.08" y="157.85" font-size="8" font-weight="bold" text-anchor="middle" fill="#000" stroke="#000" stroke-width="0.25">30%</text>
<text x="572.08" y="129.55" font-size="8" font-weight="bold" text-anchor="middle" fill="#000" stroke="#000" stroke-width="0.25">4%</text>
<text x="572.08" y="92.85" font-size="8" font-weight="bold" text-anchor="middle" fill="#000" stroke="#000" stroke-width="0.25">39%</text>
<text x="593.97" y="209.65" font-size="8" font-weight="bold" text-anchor="middle" fill="#000" stroke="#000" stroke-width="0.25">14%</text>
<text x="593.97" y="149.45" font-size="8" font-weight="bold" text-anchor="middle" fill="#000" stroke="#000" stroke-width="0.25">44%</text>
<text x="593.97" y="105.25" font-size="8" font-weight="bold" text-anchor="middle" fill="#000" stroke="#000" stroke-width="0.25">6%</text>
<text x="593.97" y="75.25" font-size="8" font-weight="bold" text-anchor="middle" fill="#000" stroke="#000" stroke-width="0.25">36%</text>
<text x="637.73" y="218.15" font-size="8" font-weight="bold" text-anchor="middle" fill="#000" stroke="#000" stroke-width="0.25">17%</text>
<text x="637.73" y="198.75" font-size="8" font-weight="bold" text-anchor="middle" fill="#000" stroke="#000" stroke-width="0.25">24%</text>
<text x="637.73" y="182.15" font-size="8" font-weight="bold" text-anchor="middle" fill="#000" stroke="#000" stroke-width="0.25">13%</text>
<text x="637.73" y="157.25" font-size="8" font-weight="bold" text-anchor="middle" fill="#000" stroke="#000" stroke-width="0.25">46%</text>
<text x="659.62" y="219.95" font-size="8" font-weight="bold" text-anchor="middle" fill="#000" stroke="#000" stroke-width="0.25">11%</text>
<text x="659.62" y="202.05" font-size="8" font-weight="bold" text-anchor="middle" fill="#000" stroke="#000" stroke-width="0.25">28%</text>
<text x="659.62" y="182.55" font-size="8" font-weight="bold" text-anchor="middle" fill="#000" stroke="#000" stroke-width="0.25">10%</text>
<text x="659.62" y="155.75" font-size="8" font-weight="bold" text-anchor="middle" fill="#000" stroke="#000" stroke-width="0.25">51%</text>
<text x="440.50" y="111.20" font-size="8" text-anchor="middle" fill="#000" stroke="#000" stroke-width="0.15">Before</text>
<text x="462.80" y="96.50" font-size="8" text-anchor="middle" fill="#000" stroke="#000" stroke-width="0.15">After</text>
<text x="499.60" y="134.60" font-size="8" text-anchor="middle" fill="#000" stroke="#000" stroke-width="0.15">Before</text>
<text x="529.00" y="122.80" font-size="8" text-anchor="middle" fill="#000" stroke="#000" stroke-width="0.15">After</text>
<text x="570.70" y="56.90" font-size="8" text-anchor="middle" fill="#000" stroke="#000" stroke-width="0.15">Before</text>
<text x="593.30" y="21.30" font-size="8" text-anchor="middle" fill="#000" stroke="#000" stroke-width="0.15">After</text>
<text x="637.50" y="130.00" font-size="8" text-anchor="middle" fill="#000" stroke="#000" stroke-width="0.15">Before</text>
<text x="659.60" y="122.60" font-size="8" text-anchor="middle" fill="#000" stroke="#000" stroke-width="0.15">After</text>
<line x1="452.6" x2="472.2" y1="112.9" y2="112.9" stroke="#f01414" stroke-width="0.7" stroke-dasharray="1,1"/>
<line x1="458.0" x2="458.0" y1="100.6" y2="111.4" stroke="#f01414" stroke-width="0.55" stroke-dasharray="1.2,0.5"/>
<polygon points="458.0,99.6 456.9,102.0 459.1,102.0" fill="#f01414"/>
<polygon points="458.0,112.4 456.9,110.0 459.1,110.0" fill="#f01414"/>
<text x="468.00" y="109.30" font-size="8" font-weight="bold" text-anchor="middle" fill="#f01414" stroke="#f01414" stroke-width="0.3">13%</text>
<line x1="497.3" x2="516.8" y1="124.9" y2="124.9" stroke="#f01414" stroke-width="0.7" stroke-dasharray="1,1"/>
<line x1="513.6" x2="513.6" y1="126.4" y2="135.4" stroke="#f01414" stroke-width="0.55" stroke-dasharray="1.2,0.5"/>
<polygon points="513.6,125.4 512.5,127.80000000000001 514.7,127.80000000000001" fill="#f01414"/>
<polygon points="513.6,136.4 512.5,134.0 514.7,134.0" fill="#f01414"/>
<text x="507.50" y="122.90" font-size="8" font-weight="bold" text-anchor="middle" fill="#f01414" stroke="#f01414" stroke-width="0.3">14%</text>
<line x1="584.0" x2="603.8" y1="59.0" y2="59.0" stroke="#f01414" stroke-width="0.7" stroke-dasharray="1,1"/>
<line x1="589.2" x2="589.2" y1="25.4" y2="57.6" stroke="#f01414" stroke-width="0.55" stroke-dasharray="1.2,0.5"/>
<polygon points="589.2,24.4 588.1,26.799999999999997 590.3000000000001,26.799999999999997" fill="#f01414"/>
<polygon points="589.2,58.6 588.1,56.2 590.3000000000001,56.2" fill="#f01414"/>
<text x="599.30" y="44.10" font-size="8" font-weight="bold" text-anchor="middle" fill="#f01414" stroke="#f01414" stroke-width="0.3">22%</text>
<line x1="650.2" x2="669.8" y1="126.2" y2="126.2" stroke="#f01414" stroke-width="0.7" stroke-dasharray="1,1"/>
<text x="659.9" y="131.6" font-size="7.4" font-weight="bold" text-anchor="middle" fill="#f01414" stroke="#f01414" stroke-width="0.3">1.7%</text>
<rect x="418.7" y="11.4" width="262.60" height="211.40" fill="none" stroke="#161616" stroke-width="1.05"/>
<line x1="414.9" x2="418.7" y1="222.80" y2="222.80" stroke="#000" stroke-width="1"/>
<line x1="681.3" x2="685.0999999999999" y1="222.80" y2="222.80" stroke="#000" stroke-width="1"/>
<text x="411.8" y="227.00" font-size="12.3" text-anchor="end" fill="#000" stroke="#000" stroke-width="0.3">0.00</text>
<line x1="416.7" x2="418.7" y1="207.70" y2="207.70" stroke="#000" stroke-width="1"/>
<line x1="681.3" x2="683.3" y1="207.70" y2="207.70" stroke="#000" stroke-width="1"/>
<line x1="414.9" x2="418.7" y1="192.60" y2="192.60" stroke="#000" stroke-width="1"/>
<line x1="681.3" x2="685.0999999999999" y1="192.60" y2="192.60" stroke="#000" stroke-width="1"/>
<text x="411.8" y="196.80" font-size="12.3" text-anchor="end" fill="#000" stroke="#000" stroke-width="0.3">0.01</text>
<line x1="416.7" x2="418.7" y1="177.50" y2="177.50" stroke="#000" stroke-width="1"/>
<line x1="681.3" x2="683.3" y1="177.50" y2="177.50" stroke="#000" stroke-width="1"/>
<line x1="414.9" x2="418.7" y1="162.40" y2="162.40" stroke="#000" stroke-width="1"/>
<line x1="681.3" x2="685.0999999999999" y1="162.40" y2="162.40" stroke="#000" stroke-width="1"/>
<text x="411.8" y="166.60" font-size="12.3" text-anchor="end" fill="#000" stroke="#000" stroke-width="0.3">0.02</text>
<line x1="416.7" x2="418.7" y1="147.30" y2="147.30" stroke="#000" stroke-width="1"/>
<line x1="681.3" x2="683.3" y1="147.30" y2="147.30" stroke="#000" stroke-width="1"/>
<line x1="414.9" x2="418.7" y1="132.20" y2="132.20" stroke="#000" stroke-width="1"/>
<line x1="681.3" x2="685.0999999999999" y1="132.20" y2="132.20" stroke="#000" stroke-width="1"/>
<text x="411.8" y="136.40" font-size="12.3" text-anchor="end" fill="#000" stroke="#000" stroke-width="0.3">0.03</text>
<line x1="416.7" x2="418.7" y1="117.10" y2="117.10" stroke="#000" stroke-width="1"/>
<line x1="681.3" x2="683.3" y1="117.10" y2="117.10" stroke="#000" stroke-width="1"/>
<line x1="414.9" x2="418.7" y1="102.00" y2="102.00" stroke="#000" stroke-width="1"/>
<line x1="681.3" x2="685.0999999999999" y1="102.00" y2="102.00" stroke="#000" stroke-width="1"/>
<text x="411.8" y="106.20" font-size="12.3" text-anchor="end" fill="#000" stroke="#000" stroke-width="0.3">0.04</text>
<line x1="416.7" x2="418.7" y1="86.90" y2="86.90" stroke="#000" stroke-width="1"/>
<line x1="681.3" x2="683.3" y1="86.90" y2="86.90" stroke="#000" stroke-width="1"/>
<line x1="414.9" x2="418.7" y1="71.80" y2="71.80" stroke="#000" stroke-width="1"/>
<line x1="681.3" x2="685.0999999999999" y1="71.80" y2="71.80" stroke="#000" stroke-width="1"/>
<text x="411.8" y="76.00" font-size="12.3" text-anchor="end" fill="#000" stroke="#000" stroke-width="0.3">0.05</text>
<line x1="416.7" x2="418.7" y1="56.70" y2="56.70" stroke="#000" stroke-width="1"/>
<line x1="681.3" x2="683.3" y1="56.70" y2="56.70" stroke="#000" stroke-width="1"/>
<line x1="414.9" x2="418.7" y1="41.60" y2="41.60" stroke="#000" stroke-width="1"/>
<line x1="681.3" x2="685.0999999999999" y1="41.60" y2="41.60" stroke="#000" stroke-width="1"/>
<text x="411.8" y="45.80" font-size="12.3" text-anchor="end" fill="#000" stroke="#000" stroke-width="0.3">0.06</text>
<line x1="416.7" x2="418.7" y1="26.50" y2="26.50" stroke="#000" stroke-width="1"/>
<line x1="681.3" x2="683.3" y1="26.50" y2="26.50" stroke="#000" stroke-width="1"/>
<line x1="414.9" x2="418.7" y1="11.40" y2="11.40" stroke="#000" stroke-width="1"/>
<line x1="681.3" x2="685.0999999999999" y1="11.40" y2="11.40" stroke="#000" stroke-width="1"/>
<text x="411.8" y="15.60" font-size="12.3" text-anchor="end" fill="#000" stroke="#000" stroke-width="0.3">0.07</text>
<line x1="418.70" x2="418.70" y1="222.8" y2="226.0" stroke="#000" stroke-width="0.9"/>
<line x1="440.58" x2="440.58" y1="222.8" y2="226.0" stroke="#000" stroke-width="0.9"/>
<line x1="462.47" x2="462.47" y1="222.8" y2="226.0" stroke="#000" stroke-width="0.9"/>
<line x1="484.35" x2="484.35" y1="222.8" y2="226.0" stroke="#000" stroke-width="0.9"/>
<line x1="506.23" x2="506.23" y1="222.8" y2="226.0" stroke="#000" stroke-width="0.9"/>
<line x1="528.12" x2="528.12" y1="222.8" y2="226.0" stroke="#000" stroke-width="0.9"/>
<line x1="550.00" x2="550.00" y1="222.8" y2="226.0" stroke="#000" stroke-width="0.9"/>
<line x1="571.88" x2="571.88" y1="222.8" y2="226.0" stroke="#000" stroke-width="0.9"/>
<line x1="593.77" x2="593.77" y1="222.8" y2="226.0" stroke="#000" stroke-width="0.9"/>
<line x1="615.65" x2="615.65" y1="222.8" y2="226.0" stroke="#000" stroke-width="0.9"/>
<line x1="637.53" x2="637.53" y1="222.8" y2="226.0" stroke="#000" stroke-width="0.9"/>
<line x1="659.42" x2="659.42" y1="222.8" y2="226.0" stroke="#000" stroke-width="0.9"/>
<line x1="681.30" x2="681.30" y1="222.8" y2="226.0" stroke="#000" stroke-width="0.9"/>
<line x1="429.64" x2="429.64" y1="222.8" y2="224.8" stroke="#000" stroke-width="0.8"/>
<line x1="451.52" x2="451.52" y1="222.8" y2="224.8" stroke="#000" stroke-width="0.8"/>
<line x1="473.41" x2="473.41" y1="222.8" y2="224.8" stroke="#000" stroke-width="0.8"/>
<line x1="495.29" x2="495.29" y1="222.8" y2="224.8" stroke="#000" stroke-width="0.8"/>
<line x1="517.17" x2="517.17" y1="222.8" y2="224.8" stroke="#000" stroke-width="0.8"/>
<line x1="539.06" x2="539.06" y1="222.8" y2="224.8" stroke="#000" stroke-width="0.8"/>
<line x1="560.94" x2="560.94" y1="222.8" y2="224.8" stroke="#000" stroke-width="0.8"/>
<line x1="582.82" x2="582.82" y1="222.8" y2="224.8" stroke="#000" stroke-width="0.8"/>
<line x1="604.71" x2="604.71" y1="222.8" y2="224.8" stroke="#000" stroke-width="0.8"/>
<line x1="626.59" x2="626.59" y1="222.8" y2="224.8" stroke="#000" stroke-width="0.8"/>
<line x1="648.47" x2="648.47" y1="222.8" y2="224.8" stroke="#000" stroke-width="0.8"/>
<line x1="670.36" x2="670.36" y1="222.8" y2="224.8" stroke="#000" stroke-width="0.8"/>
<text x="449.20" y="240.4" font-size="10.8" text-anchor="middle" fill="#000" stroke="#000" stroke-width="0.3">DH</text>
<text x="517.10" y="240.4" font-size="10.8" text-anchor="middle" fill="#000" stroke="#000" stroke-width="0.3">WJ</text>
<text x="583.40" y="240.4" font-size="10.8" text-anchor="middle" fill="#000" stroke="#000" stroke-width="0.3">TC</text>
<text x="650.10" y="240.4" font-size="10.8" text-anchor="middle" fill="#000" stroke="#000" stroke-width="0.3">BL</text>
<text transform="translate(376.1,111.9) rotate(-90)" font-size="12.2" text-anchor="middle" fill="#000" stroke="#000" stroke-width="0.3">Pore Volume (mL/g)</text>
<text x="670.6" y="24.2" font-size="13" font-weight="bold" text-anchor="middle" fill="#000" stroke="#000" stroke-width="0.25">(b)</text>
<rect x="421.7" y="13.9" width="89.3" height="56.3" fill="#fff" stroke="#a8a8a8" stroke-width="0.8"/>
<rect x="423.8" y="15.70" width="24.1" height="11.2" rx="0.8" fill="#fffda0" stroke="#4d4d4d" stroke-width="0.8"/>
<text x="450.9" y="24.70" font-size="10.9" fill="#000" font-family='"Liberation Serif", "Noto Serif CJK SC", "Noto Sans CJK SC", serif' stroke="#000" stroke-width="0.3">＞1000 nm</text>
<rect x="423.8" y="29.40" width="24.1" height="11.2" rx="0.8" fill="#c9b9e2" stroke="#4d4d4d" stroke-width="0.8"/>
<text x="451.4" y="38.40" font-size="10.9" fill="#000" stroke="#000" stroke-width="0.3">100-1000 nm</text>
<rect x="423.8" y="43.10" width="24.1" height="11.2" rx="0.8" fill="#98d69b" stroke="#4d4d4d" stroke-width="0.8"/>
<text x="451.4" y="52.10" font-size="10.9" fill="#000" stroke="#000" stroke-width="0.3">10-100 nm</text>
<rect x="423.8" y="57.00" width="24.1" height="11.2" rx="0.8" fill="#fccb9b" stroke="#4d4d4d" stroke-width="0.8"/>
<text x="450.9" y="66.00" font-size="10.9" fill="#000" font-family='"Liberation Serif", "Noto Serif CJK SC", "Noto Sans CJK SC", serif' stroke="#000" stroke-width="0.3">＜10 nm</text>
</svg>
</body></html>
